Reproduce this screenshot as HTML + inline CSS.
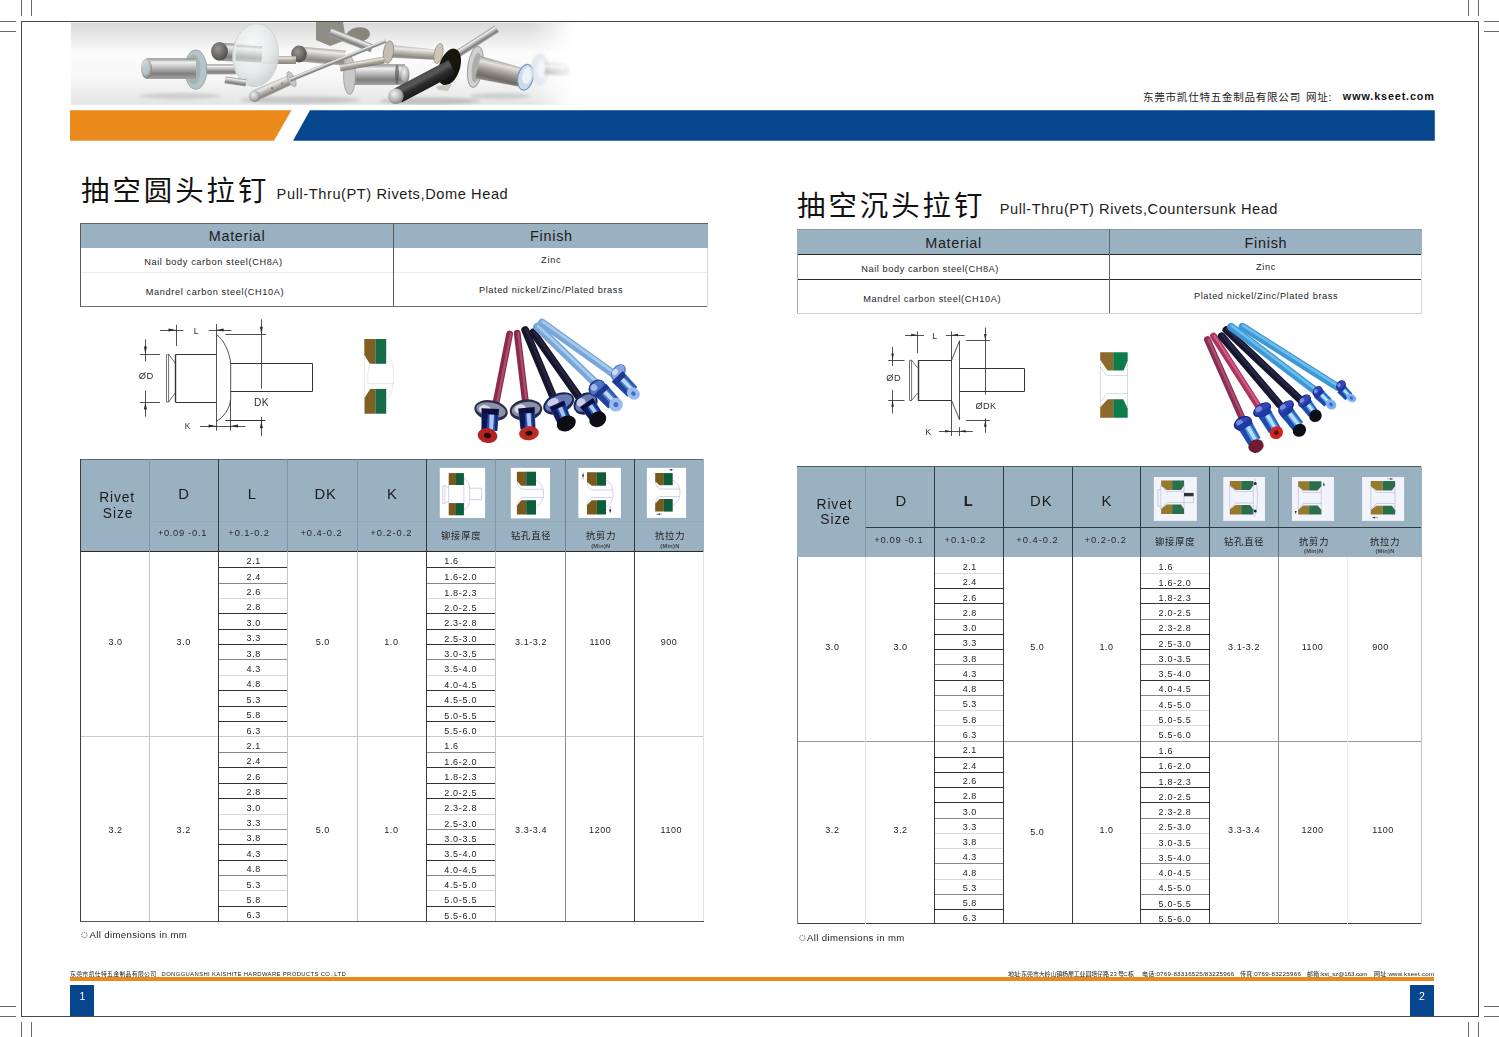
<!DOCTYPE html>
<html><head><meta charset="utf-8"><title>Pull-Thru Rivets</title>
<style>
html,body{margin:0;padding:0;background:#fff}
body{width:1499px;height:1037px;position:relative;overflow:hidden;font-family:"Liberation Sans",sans-serif}
.t{position:absolute;transform:translate(-50%,-50%);white-space:nowrap;line-height:1}
.tl{position:absolute;transform:translate(0,-50%);white-space:nowrap;line-height:1}
.r{position:absolute}
.s{position:absolute;overflow:visible}
.cj{font-family:"Liberation Sans","Noto Sans CJK SC",sans-serif}
</style></head><body>
<div class="r" style="left:21.1px;top:21.05px;width:1458.1000000000001px;height:1.1px;background:#474747;"></div>
<div class="r" style="left:21.1px;top:1015.85px;width:1458.1000000000001px;height:1.1px;background:#474747;"></div>
<div class="r" style="left:21.05px;top:21.1px;width:1.1px;height:995.8px;background:#474747;"></div>
<div class="r" style="left:1478.15px;top:21.1px;width:1.1px;height:995.8px;background:#474747;"></div>
<div class="r" style="left:21.0px;top:0px;width:1px;height:15.5px;background:#6a6a6a;"></div>
<div class="r" style="left:21.0px;top:1022px;width:1px;height:15px;background:#6a6a6a;"></div>
<div class="r" style="left:31.0px;top:0px;width:1px;height:15.5px;background:#6a6a6a;"></div>
<div class="r" style="left:31.0px;top:1022px;width:1px;height:15px;background:#6a6a6a;"></div>
<div class="r" style="left:1467.9px;top:0px;width:1px;height:15.5px;background:#6a6a6a;"></div>
<div class="r" style="left:1467.9px;top:1022px;width:1px;height:15px;background:#6a6a6a;"></div>
<div class="r" style="left:1477.9px;top:0px;width:1px;height:15.5px;background:#6a6a6a;"></div>
<div class="r" style="left:1477.9px;top:1022px;width:1px;height:15px;background:#6a6a6a;"></div>
<div class="r" style="left:0px;top:21.0px;width:15.5px;height:1px;background:#6a6a6a;"></div>
<div class="r" style="left:1484px;top:21.0px;width:15px;height:1px;background:#6a6a6a;"></div>
<div class="r" style="left:0px;top:31.0px;width:15.5px;height:1px;background:#6a6a6a;"></div>
<div class="r" style="left:1484px;top:31.0px;width:15px;height:1px;background:#6a6a6a;"></div>
<div class="r" style="left:0px;top:1005.8px;width:15.5px;height:1px;background:#6a6a6a;"></div>
<div class="r" style="left:1484px;top:1005.8px;width:15px;height:1px;background:#6a6a6a;"></div>
<div class="r" style="left:0px;top:1015.9px;width:15.5px;height:1px;background:#6a6a6a;"></div>
<div class="r" style="left:1484px;top:1015.9px;width:15px;height:1px;background:#6a6a6a;"></div>
<svg class="s" style="left:70px;top:22px" width="512" height="83" viewBox="70 22 512 83">
<defs>
<linearGradient id="pbg" x1="0" y1="0" x2="0" y2="1"><stop offset="0" stop-color="#d9d9d9"/><stop offset="0.38" stop-color="#fcfcfc"/><stop offset="0.66" stop-color="#f8f8f8"/><stop offset="1" stop-color="#e3e4e4"/></linearGradient>
<linearGradient id="pfd" x1="0" y1="0" x2="1" y2="0"><stop offset="0" stop-color="#fff" stop-opacity="0"/><stop offset="0.9" stop-color="#fff" stop-opacity="0"/><stop offset="0.985" stop-color="#fff" stop-opacity="1"/><stop offset="1" stop-color="#fff" stop-opacity="1"/></linearGradient>
<linearGradient id="cyl" x1="0" y1="0" x2="0" y2="1"><stop offset="0" stop-color="#8c8c8c"/><stop offset="0.2" stop-color="#efefef"/><stop offset="0.45" stop-color="#bcbcbc"/><stop offset="0.75" stop-color="#7e7e7e"/><stop offset="1" stop-color="#a4a4a4"/></linearGradient>
<linearGradient id="cyl2" x1="0" y1="0" x2="0" y2="1"><stop offset="0" stop-color="#a8a49c"/><stop offset="0.25" stop-color="#e6e2da"/><stop offset="0.55" stop-color="#a69e92"/><stop offset="1" stop-color="#7c766c"/></linearGradient>
<linearGradient id="cyl3" x1="0" y1="0" x2="0" y2="1"><stop offset="0" stop-color="#b4b0aa"/><stop offset="0.22" stop-color="#ecebe8"/><stop offset="0.5" stop-color="#bdb9b3"/><stop offset="0.8" stop-color="#8c8882"/><stop offset="1" stop-color="#aaa6a0"/></linearGradient>
<linearGradient id="cyl4" x1="0" y1="0" x2="0" y2="1"><stop offset="0" stop-color="#a29e98"/><stop offset="0.2" stop-color="#e4e2de"/><stop offset="0.42" stop-color="#b2aea8"/><stop offset="0.62" stop-color="#8a8680"/><stop offset="0.82" stop-color="#6e6a66"/><stop offset="1" stop-color="#9a9690"/></linearGradient>
<linearGradient id="blk" x1="0" y1="0" x2="0" y2="1"><stop offset="0" stop-color="#4a4a4a"/><stop offset="0.3" stop-color="#5a5a5a"/><stop offset="0.6" stop-color="#2c2c2c"/><stop offset="1" stop-color="#1c1c1c"/></linearGradient>
<radialGradient id="disc" cx="0.4" cy="0.35" r="0.7"><stop offset="0" stop-color="#fafbfb"/><stop offset="0.6" stop-color="#e6eaea"/><stop offset="1" stop-color="#c8cece"/></radialGradient>
<radialGradient id="ball" cx="0.4" cy="0.35" r="0.7"><stop offset="0" stop-color="#f0f0f0"/><stop offset="0.6" stop-color="#b4b4b4"/><stop offset="1" stop-color="#7c7c7c"/></radialGradient>
<radialGradient id="dball" cx="0.4" cy="0.35" r="0.7"><stop offset="0" stop-color="#9a9894"/><stop offset="0.7" stop-color="#62605c"/><stop offset="1" stop-color="#4a4844"/></radialGradient>
<filter id="pb" x="-2%" y="-5%" width="104%" height="110%"><feGaussianBlur stdDeviation="0.75"/></filter>
<filter id="pb2" x="-5%" y="-10%" width="110%" height="120%"><feGaussianBlur stdDeviation="1.6"/></filter>
<filter id="pb3" x="-5%" y="-10%" width="110%" height="120%"><feGaussianBlur stdDeviation="1.1"/></filter>
<clipPath id="pcl"><rect x="70" y="22.6" width="512" height="82.2"/></clipPath>
</defs>
<rect x="70.8" y="22.6" width="511.2" height="82.2" fill="url(#pbg)"/>
<g clip-path="url(#pcl)"><g filter="url(#pb)">
<g filter="url(#pb2)" opacity="0.35">
<ellipse cx="180.0" cy="96.0" rx="40" ry="3" fill="#9a9a9a" transform="rotate(0 180.0 96.0)" opacity="1"/>
<ellipse cx="300.0" cy="100.0" rx="60" ry="3.5" fill="#8a8a8a" transform="rotate(0 300.0 100.0)" opacity="1"/>
<ellipse cx="430.0" cy="101.0" rx="50" ry="3.5" fill="#7a7a7a" transform="rotate(0 430.0 101.0)" opacity="1"/>
<ellipse cx="500.0" cy="96.0" rx="30" ry="3" fill="#9a9a9a" transform="rotate(0 500.0 96.0)" opacity="1"/>
</g>
<polygon points="316,22 343,22 346,40 330,46 316,40" fill="#8e8e86"/>
<ellipse cx="358.0" cy="35.0" rx="12" ry="7.5" fill="#8a847a" transform="rotate(-10 358.0 35.0)" opacity="1"/>
<g transform="translate(330.0 32.0) rotate(21.4)" opacity="1"><polygon points="0,-4.2 45.1,-4.2 45.1,4.2 0,4.2" fill="url(#cyl)"/></g>
<g transform="translate(299.0 54.0) rotate(5.0)" opacity="1"><polygon points="0,-7.5 46.2,-7.5 46.2,7.5 0,7.5" fill="url(#cyl3)"/></g>
<ellipse cx="299.0" cy="54.0" rx="7.8" ry="8.4" fill="url(#dball)" transform="rotate(0 299.0 54.0)" opacity="1"/>
<g transform="translate(262.0 60.0) rotate(0.0)" opacity="0.9"><polygon points="0,-4.0 34.0,-4.0 34.0,4.0 0,4.0" fill="url(#cyl2)"/></g>
<g transform="translate(205.0 69.4) rotate(0.0)" opacity="1"><polygon points="0,-5.0 31.0,-5.0 31.0,5.0 0,5.0" fill="url(#cyl)"/></g>
<g transform="translate(222.0 52.0) rotate(2.5)" opacity="1"><polygon points="0,-9.0 34.0,-9.0 34.0,9.0 0,9.0" fill="url(#cyl)"/></g>
<ellipse cx="219.5" cy="51.3" rx="8.4" ry="9.4" fill="url(#dball)" transform="rotate(0 219.5 51.3)" opacity="1"/>
<ellipse cx="255.6" cy="55.2" rx="23" ry="31.5" fill="url(#disc)" transform="rotate(4 255.6 55.2)" opacity="0.93" stroke="#c9cfcf" stroke-width="0.8"/>
<g transform="translate(236.0 53.0) rotate(3.3)" opacity="0.45"><polygon points="0,-8.0 26.0,-8.0 26.0,8.0 0,8.0" fill="url(#cyl)"/></g>
<ellipse cx="195.8" cy="69.6" rx="11" ry="19.8" fill="#b4c4c8" transform="rotate(0 195.8 69.6)" opacity="1" stroke="#9aa6aa" stroke-width="1"/>
<ellipse cx="193.5" cy="69.6" rx="7" ry="15" fill="#a4aeb0" transform="rotate(0 193.5 69.6)" opacity="0.8"/>
<g transform="translate(146.0 68.6) rotate(0.0)" opacity="1"><polygon points="0,-10.3 50.0,-10.3 50.0,10.3 0,10.3" fill="url(#cyl)"/></g>
<ellipse cx="146.5" cy="68.6" rx="5.5" ry="10.2" fill="url(#ball)" transform="rotate(0 146.5 68.6)" opacity="1"/>
<ellipse cx="146.0" cy="68.8" rx="3.2" ry="6" fill="#b4c8d4" transform="rotate(0 146.0 68.8)" opacity="0.8"/>
<g transform="translate(225.0 80.0) rotate(8.1)" opacity="1"><polygon points="0,-3.5 21.2,-3.5 21.2,3.5 0,3.5" fill="url(#cyl)"/></g>
<g transform="translate(352.0 74.6) rotate(0.0)" opacity="1"><polygon points="0,-10.3 53.0,-10.3 53.0,10.3 0,10.3" fill="url(#cyl)"/></g>
<ellipse cx="349.5" cy="75.5" rx="6" ry="19" fill="#c8c8c8" transform="rotate(0 349.5 75.5)" opacity="1" stroke="#9a9a9a" stroke-width="0.8"/>
<ellipse cx="397.0" cy="74.6" rx="2" ry="10" fill="#5a5a5a" transform="rotate(0 397.0 74.6)" opacity="0.7"/>
<ellipse cx="405.0" cy="74.6" rx="4.5" ry="9" fill="url(#ball)" transform="rotate(0 405.0 74.6)" opacity="1"/>
<g transform="translate(254.0 96.3) rotate(-24.5)" opacity="1"><polygon points="0,-5.8 41.8,-5.0 41.8,5.0 0,5.8" fill="url(#cyl3)"/></g>
<ellipse cx="254.5" cy="96.2" rx="5.6" ry="5.8" fill="url(#ball)" transform="rotate(0 254.5 96.2)" opacity="1"/>
<ellipse cx="272.0" cy="88.2" rx="0.9" ry="1.1" fill="#5a5a5a" transform="rotate(0 272.0 88.2)" opacity="0.8"/>
<ellipse cx="282.0" cy="83.6" rx="0.9" ry="1.1" fill="#5a5a5a" transform="rotate(0 282.0 83.6)" opacity="0.8"/>
<ellipse cx="291.5" cy="79.2" rx="3.4" ry="8.2" fill="#c6c6c6" transform="rotate(-25 291.5 79.2)" opacity="1" stroke="#9a9a9a" stroke-width="0.6"/>
<g transform="translate(290.0 80.0) rotate(-22.2)" opacity="1"><polygon points="0,-2.2 103.7,-1.8 103.7,1.8 0,2.2" fill="url(#cyl)"/></g>
<g transform="translate(386.0 51.0) rotate(4.2)" opacity="1"><polygon points="0,-6.5 54.1,-5.0 54.1,5.0 0,6.5" fill="url(#cyl3)"/></g>
<ellipse cx="388.5" cy="52.1" rx="5" ry="11.3" fill="#c4beb2" transform="rotate(8 388.5 52.1)" opacity="1" stroke="#8c867a" stroke-width="0.8"/>
<ellipse cx="438.5" cy="53.5" rx="4.2" ry="10.2" fill="#cdc7bb" transform="rotate(12 438.5 53.5)" opacity="1" stroke="#8c867a" stroke-width="0.7"/>
<g transform="translate(340.0 68.0) rotate(-10.3)" opacity="0.9"><polygon points="0,-3.5 44.7,-3.5 44.7,3.5 0,3.5" fill="url(#cyl2)"/></g>
<g transform="translate(452.0 57.5) rotate(-32.6)" opacity="1"><polygon points="0,-3.8 53.4,-3.8 53.4,3.8 0,3.8" fill="url(#cyl)"/></g>
<ellipse cx="449.5" cy="67.0" rx="10.4" ry="19" fill="#17120e" transform="rotate(18 449.5 67.0)" opacity="1"/>
<g transform="translate(398.0 95.5) rotate(-27.8)" opacity="1"><polygon points="0,-7.8 61.1,-7.8 61.1,7.8 0,7.8" fill="url(#blk)"/></g>
<ellipse cx="395.8" cy="96.2" rx="7.8" ry="7.8" fill="url(#ball)" transform="rotate(0 395.8 96.2)" opacity="1"/>
<polygon points="436,86 452,84 448,91 438,90" fill="#c8c8c0"/>
<ellipse cx="475.4" cy="66.8" rx="7.6" ry="20.6" fill="#d2d2d2" transform="rotate(8 475.4 66.8)" opacity="1" stroke="#9c9c9c" stroke-width="1"/>
<ellipse cx="476.5" cy="67.5" rx="4.6" ry="15" fill="#a4a4a4" transform="rotate(8 476.5 67.5)" opacity="0.8"/>
<g transform="translate(478.0 67.2) rotate(13.2)" opacity="1"><polygon points="0,-11.5 45.2,-9.5 45.2,9.5 0,11.5" fill="url(#cyl4)"/></g>
<ellipse cx="525.5" cy="77.2" rx="7.6" ry="13" fill="#cfdce8" transform="rotate(12 525.5 77.2)" opacity="1" stroke="#6f9ccb" stroke-width="1.2"/>
<ellipse cx="527.0" cy="75.5" rx="4.6" ry="8.5" fill="#eef3f8" transform="rotate(12 527.0 75.5)" opacity="0.9"/>
</g>
<g filter="url(#pb3)">
<ellipse cx="540.3" cy="69.4" rx="8.5" ry="15.4" fill="#dfe7ee" transform="rotate(0 540.3 69.4)" opacity="1" stroke="#c4d0da" stroke-width="0.8"/>
<g transform="translate(544.0 68.6) rotate(3.5)" opacity="0.75"><polygon points="0,-6.0 26.0,-6.0 26.0,6.0 0,6.0" fill="url(#cyl)"/></g>
<ellipse cx="541.0" cy="69.0" rx="4" ry="9" fill="#f2f5f8" transform="rotate(0 541.0 69.0)" opacity="0.9"/>
<ellipse cx="566.5" cy="70.0" rx="2.2" ry="3.2" fill="#7e8a94" transform="rotate(0 566.5 70.0)" opacity="0.8"/>
</g>
</g>
<rect x="70" y="22.6" width="512" height="82.2" fill="url(#pfd)"/>
</svg>
<svg class="s" style="left:0;top:105px" width="1499" height="40" viewBox="0 105 1499 40"><polygon points="70,110.2 291.5,110.2 274,140.8 70,140.8" fill="#ea8a1c"/><polygon points="310,110.2 1434.8,110.2 1434.8,140.8 293,140.8" fill="#05468f"/></svg>
<svg class="s" style="left:1141.00px;top:89.80px" width="162.5" height="14.8" viewBox="-2 -10.6 162.5 14.8"><text class="cj" x="0" y="0" font-size="10.6" fill="#1c1c1c" style="letter-spacing:0.7px">东莞市凯仕特五金制品有限公司</text></svg>
<svg class="s" style="left:1304.00px;top:89.80px" width="28.7" height="14.8" viewBox="-2 -10.6 28.7 14.8"><text class="cj" x="0" y="0" font-size="10.6" fill="#1c1c1c" style="letter-spacing:0.7px">网址:</text></svg>
<div class="tl" style="left:1342.87px;top:96.4px;font-size:10.8px;letter-spacing:0.872px;font-weight:bold;color:#111;">www.kseet.com</div>
<svg class="s" style="left:78.60px;top:172.60px" width="190.4" height="39.8" viewBox="-2 -28.4 190.4 39.8"><text class="cj" x="0" y="0" font-size="28.4" fill="#111" style="letter-spacing:3px">抽空圆头拉钉</text></svg>
<div class="tl" style="left:276.62px;top:193.6px;font-size:14.6px;letter-spacing:0.586px;font-weight:normal;color:#1c1c1c;">Pull-Thru(PT) Rivets,Dome Head</div>
<svg class="s" style="left:795.00px;top:187.80px" width="190.4" height="39.8" viewBox="-2 -28.4 190.4 39.8"><text class="cj" x="0" y="0" font-size="28.4" fill="#111" style="letter-spacing:3px">抽空沉头拉钉</text></svg>
<div class="tl" style="left:999.82px;top:209.2px;font-size:14.6px;letter-spacing:0.549px;font-weight:normal;color:#1c1c1c;">Pull-Thru(PT) Rivets,Countersunk Head</div>
<div class="r" style="left:80.1px;top:223.5px;width:627.6px;height:24.400000000000006px;background:#9ab1c2;"></div>
<div class="tl" style="left:208.87px;top:236.2px;font-size:14.4px;letter-spacing:0.669px;font-weight:normal;color:#1c1c1c;">Material</div>
<div class="tl" style="left:530.12px;top:236.2px;font-size:14.4px;letter-spacing:0.717px;font-weight:normal;color:#1c1c1c;">Finish</div>
<div class="tl" style="left:144.23px;top:262.8px;font-size:9.2px;letter-spacing:0.607px;font-weight:normal;color:#1c1c1c;">Nail body carbon steel(CH8A)</div>
<div class="tl" style="left:145.73px;top:293.4px;font-size:9.2px;letter-spacing:0.631px;font-weight:normal;color:#1c1c1c;">Mandrel carbon steel(CH10A)</div>
<div class="tl" style="left:541.08px;top:261.0px;font-size:9.2px;letter-spacing:0.706px;font-weight:normal;color:#1c1c1c;">Zinc</div>
<div class="tl" style="left:478.93px;top:290.5px;font-size:9.2px;letter-spacing:0.6px;font-weight:normal;color:#1c1c1c;">Plated nickel/Zinc/Plated brass</div>
<div class="r" style="left:80.1px;top:223.0px;width:627.6px;height:1px;background:#5c656c;"></div>
<div class="r" style="left:80.1px;top:306.29999999999995px;width:627.6px;height:1.2px;background:#6e6e6e;"></div>
<div class="r" style="left:80.1px;top:271.9px;width:627.6px;height:1px;background:#ececec;"></div>
<div class="r" style="left:79.6px;top:223.5px;width:1px;height:83.39999999999998px;background:#5a5a5a;"></div>
<div class="r" style="left:393.1px;top:223.5px;width:1px;height:83.39999999999998px;background:#5a5a5a;"></div>
<div class="r" style="left:707.2px;top:247.9px;width:1px;height:58.99999999999997px;background:#d8d8d8;"></div>
<div class="r" style="left:797.3px;top:229.3px;width:624.5px;height:25.099999999999994px;background:#9ab1c2;"></div>
<div class="tl" style="left:925.27px;top:242.6px;font-size:14.4px;letter-spacing:0.669px;font-weight:normal;color:#1c1c1c;">Material</div>
<div class="tl" style="left:1244.62px;top:242.6px;font-size:14.4px;letter-spacing:0.717px;font-weight:normal;color:#1c1c1c;">Finish</div>
<div class="tl" style="left:861.33px;top:270.0px;font-size:9.2px;letter-spacing:0.574px;font-weight:normal;color:#1c1c1c;">Nail body carbon steel(CH8A)</div>
<div class="tl" style="left:863.23px;top:300.2px;font-size:9.2px;letter-spacing:0.604px;font-weight:normal;color:#1c1c1c;">Mandrel carbon steel(CH10A)</div>
<div class="tl" style="left:1255.88px;top:268.4px;font-size:9.2px;letter-spacing:0.706px;font-weight:normal;color:#1c1c1c;">Zinc</div>
<div class="tl" style="left:1193.93px;top:296.7px;font-size:9.2px;letter-spacing:0.6px;font-weight:normal;color:#1c1c1c;">Plated nickel/Zinc/Plated brass</div>
<div class="r" style="left:797.3px;top:228.8px;width:624.5px;height:1px;background:#8b9aa6;"></div>
<div class="r" style="left:797.3px;top:253.8px;width:624.5px;height:1.2px;background:#2a2a2a;"></div>
<div class="r" style="left:797.3px;top:278.9px;width:624.5px;height:1.2px;background:#2a2a2a;"></div>
<div class="r" style="left:797.3px;top:312.7px;width:624.5px;height:1px;background:#d0d0d0;"></div>
<div class="r" style="left:796.8px;top:254.4px;width:1px;height:58.79999999999998px;background:#a8a8a8;"></div>
<div class="r" style="left:1108.8px;top:229.3px;width:1px;height:83.89999999999998px;background:#666;"></div>
<div class="r" style="left:1421.3px;top:254.4px;width:1px;height:58.79999999999998px;background:#dcdcdc;"></div>
<svg class="s" style="left:0;top:0" width="1499" height="1037" viewBox="0 0 1499 1037">
<defs><filter id="gb" x="-5%" y="-5%" width="110%" height="110%"><feGaussianBlur stdDeviation="0.3"/></filter></defs>
<g fill="none" stroke="#333" stroke-width="0.85" stroke-linecap="butt">
<path d="M140 354.5L160 354.5"/>
<path d="M140 402.5L160 402.5"/>
<path d="M145.5 339.4L145.5 361.4"/>
<path d="M145.5 390.7L145.5 416.7"/>
<path d="M145.4 354L143.9 346.5L146.9 346.5Z" fill="#2a2a2a" stroke="none"/>
<path d="M145.4 402.1L146.9 409.6L143.9 409.6Z" fill="#2a2a2a" stroke="none"/>
<path d="M166.5 355L166.5 402L168.6 402L175.4 392.7M166.5 355L168.6 354.2L175.4 363.4M168.6 354.2L168.6 402" stroke-width="0.7"/>
<path d="M175.4 354.5L216 354.5M175.4 402.5L216 402.5" stroke-width="1.1"/>
<path d="M175.5 354.7L175.5 402.1" stroke-width="1.4"/>
<path d="M216.5 324L216.5 430.7"/>
<path d="M216.3 334.3C224 340 229.5 352 230.7 363.4L230.7 399.4C229.5 409 224 417 216.3 421.4"/>
<path d="M230.7 363.5L312.5 363.5L312.5 391.5L230.7 391.5" stroke-width="1"/>
<path d="M160 330.5L183.4 330.5"/>
<path d="M176.5 324.7L176.5 346"/>
<path d="M176 330L168.5 331.5L168.5 328.5Z" fill="#2a2a2a" stroke="none"/>
<path d="M208.7 330.5L231.4 330.5"/>
<path d="M216.1 330L223.6 328.5L223.6 331.5Z" fill="#2a2a2a" stroke="none"/>
<path d="M261.5 319.3L261.5 388.7"/>
<path d="M225.4 334.5L266.1 334.5"/>
<path d="M261.4 334.3L259.9 326.8L262.9 326.8Z" fill="#2a2a2a" stroke="none"/>
<path d="M225.4 420.5L265.4 420.5" stroke-width="1.2"/>
<path d="M261.5 416.7L261.5 436.1"/>
<path d="M261.4 420.7L262.9 428.2L259.9 428.2Z" fill="#2a2a2a" stroke="none"/>
<path d="M200 426.5L245.4 426.5"/>
<path d="M216.1 426.1L208.6 427.6L208.6 424.6Z" fill="#2a2a2a" stroke="none"/>
<path d="M230.5 426.1L238.0 424.6L238.0 427.6Z" fill="#2a2a2a" stroke="none"/>
<path d="M230.5 399.4L230.5 430.7"/>
<path d="M888.2 360.5L904.5 360.5"/>
<path d="M888.2 400.5L904.5 400.5"/>
<path d="M892.5 347L892.5 366"/>
<path d="M892.5 390L892.5 413.4"/>
<path d="M892.6 360.1L891.3 353.6L893.9 353.6Z" fill="#2a2a2a" stroke="none"/>
<path d="M892.6 400.2L893.9 406.7L891.3 406.7Z" fill="#2a2a2a" stroke="none"/>
<path d="M909.5 360.5L909.5 400.5L911.6 400.5L917.6 393M909.5 360.5L911.6 360.1L917.6 367.8M911.6 360.1L911.6 400.5" stroke-width="0.7"/>
<path d="M918 360.5L951.5 360.5M918 400.5L951.5 400.5" stroke-width="1.1"/>
<path d="M918.5 360.4L918.5 400.5" stroke-width="1.4"/>
<path d="M951.5 360.5L959.5 340.7L959.5 419.7L951.5 400.5"/>
<path d="M951.5 331.3L951.5 436"/>
<path d="M959.6 368.5L1024.5 368.5L1024.5 391.5L959.6 391.5" stroke-width="1"/>
<path d="M905 335.5L924 335.5"/>
<path d="M917.5 331.3L917.5 353.2"/>
<path d="M917.6 335L911.1 336.3L911.1 333.7Z" fill="#2a2a2a" stroke="none"/>
<path d="M945.8 335.5L964.6 335.5"/>
<path d="M951.5 335L958.0 333.7L958.0 336.3Z" fill="#2a2a2a" stroke="none"/>
<path d="M985.5 327.5L985.5 394.6"/>
<path d="M965.9 340.5L989.7 340.5"/>
<path d="M985.3 340.4L984.0 333.9L986.6 333.9Z" fill="#2a2a2a" stroke="none"/>
<path d="M965.9 420.5L989.7 420.5"/>
<path d="M985.5 418.4L985.5 432.8"/>
<path d="M985.3 420.3L986.6 426.8L984.0 426.8Z" fill="#2a2a2a" stroke="none"/>
<path d="M938.9 431.5L972.8 431.5"/>
<path d="M951.5 431.3L945.0 432.6L945.0 430.0Z" fill="#2a2a2a" stroke="none"/>
<path d="M959.2 431.3L965.7 430.0L965.7 432.6Z" fill="#2a2a2a" stroke="none"/>
<path d="M959.5 427.2L959.5 436"/>
</g>
<g filter="url(#gb)">
<path d="M364.3 339L375.3 339L375.3 363.8L369.8 363.8L364.3 354.9Z" fill="#7f5f20"/>
<rect x="375.3" y="339" width="10.9" height="24.8" fill="#146b45"/>
<path d="M364.5 397.8L370.3 388.9L375.3 388.9L375.3 413.7L364.5 413.7Z" fill="#7f5f20"/>
<rect x="375.3" y="388.9" width="10.9" height="24.8" fill="#146b45"/>
<path d="M364.6 356.8L364.6 396.4M369.8 363.8C367.5 369 367.5 378 368 383.4M386.2 353C391.5 357 393.6 366 393.6 376.5C393.6 387 391.5 396 386.2 399.8M367.8 383.4L393.9 383.4" fill="none" stroke="#dedee6" stroke-width="0.7"/>
<path d="M1100.2 352.2L1113.2 352.2L1113.2 370.6L1107.6 370.6L1100.2 360Z" fill="#8e6829"/>
<path d="M1113.2 352.2L1127.7 352.2L1127.7 360.4L1123.6 370.6L1113.2 370.6Z" fill="#0f7b4c"/>
<path d="M1100.2 407.3L1107.7 399.3L1113.2 399.3L1113.2 417.7L1100.2 417.7Z" fill="#8e6829"/>
<path d="M1113.2 399.3L1123.2 399.3L1127.7 408.6L1127.7 417.7L1113.2 417.7Z" fill="#0f7b4c"/>
<path d="M1100.4 363L1100.4 406M1127.5 362L1127.5 407M1100.4 367L1106.3 375.4L1127.5 375.4M1100.4 402.5L1106.3 393.7L1127.5 393.7" fill="none" stroke="#c9c9d8" stroke-width="0.7"/>
</g>
</svg>
<svg class="s" style="left:0;top:0" width="1499" height="1037" viewBox="0 0 1499 1037">
<defs><filter id="bl" x="-5%" y="-5%" width="110%" height="110%"><feGaussianBlur stdDeviation="0.75"/></filter></defs>
<g filter="url(#bl)" stroke-linecap="round" fill="none">
<path d="M509.6 334.0L495.8 404.0" stroke="#8b2b4c" stroke-width="6.8" stroke-linecap="round" opacity="1"/>
<path d="M510.7 334.2L496.9 404.2" stroke="#b4587c" stroke-width="2.3" stroke-linecap="round" opacity="0.75"/>
<ellipse cx="491.0" cy="410.5" rx="16.9" ry="10.2" fill="#2a2c48" transform="rotate(11 491.0 410.5)" opacity="1"/>
<ellipse cx="491.0" cy="410.0" rx="14.9" ry="7.3" fill="#8c92a6" transform="rotate(11 491.0 410.0)" opacity="1"/>
<ellipse cx="485.1" cy="409.5" rx="6.1" ry="4.3" fill="#e4e6ee" transform="rotate(11 485.1 409.5)" opacity="0.9"/>
<polygon points="481.5,408.3 481.6,415.0 498.4,415.7 499.1,409.0" fill="#0b1040" opacity="1"/>
<polygon points="481.5,414.2 481.4,430.3 497.4,430.9 498.6,414.9" fill="#2a4db0" opacity="1"/>
<polygon points="482.0,414.2 481.8,430.3 486.6,430.5 487.8,414.4" fill="#0b1040" opacity="0.85"/>
<polygon points="489.5,414.5 489.2,430.6 493.0,430.7 494.0,414.7" fill="#b4cef6" opacity="0.95"/>
<polygon points="495.4,414.7 495.0,430.8 496.9,430.9 497.8,414.8" fill="#0b1040" opacity="0.6"/>
<ellipse cx="487.5" cy="435.6" rx="9.9" ry="7.4" fill="#b42222" transform="rotate(11 487.5 435.6)" opacity="1"/>
<ellipse cx="487.5" cy="435.6" rx="3.6" ry="2.7" fill="#2c0c0c" transform="rotate(11 487.5 435.6)" opacity="1"/>
<path d="M517.2 333.2L525.7 404.0" stroke="#8b2b4c" stroke-width="6.8" stroke-linecap="round" opacity="1"/>
<path d="M518.3 333.1L526.8 403.9" stroke="#b4587c" stroke-width="2.3" stroke-linecap="round" opacity="0.75"/>
<ellipse cx="526.0" cy="410.0" rx="16.3" ry="10.6" fill="#2a2c48" transform="rotate(-7 526.0 410.0)" opacity="1"/>
<ellipse cx="526.0" cy="409.5" rx="14.3" ry="7.6" fill="#8c92a6" transform="rotate(-7 526.0 409.5)" opacity="1"/>
<ellipse cx="520.3" cy="408.9" rx="5.9" ry="4.5" fill="#e4e6ee" transform="rotate(-7 520.3 408.9)" opacity="0.9"/>
<polygon points="518.2,408.4 519.0,414.7 534.8,413.5 534.7,407.1" fill="#0b1040" opacity="1"/>
<polygon points="518.8,414.0 520.5,429.4 535.5,428.2 534.9,412.8" fill="#2a4db0" opacity="1"/>
<polygon points="519.3,413.9 520.9,429.3 525.4,429.0 524.8,413.5" fill="#0b1040" opacity="0.85"/>
<polygon points="526.4,413.4 527.8,428.8 531.4,428.5 530.6,413.1" fill="#b4cef6" opacity="0.95"/>
<polygon points="531.9,413.0 533.2,428.4 535.0,428.3 534.1,412.8" fill="#0b1040" opacity="0.6"/>
<ellipse cx="529.0" cy="433.3" rx="9.9" ry="7.0" fill="#ba2a22" transform="rotate(-7 529.0 433.3)" opacity="1"/>
<ellipse cx="529.0" cy="433.3" rx="3.6" ry="2.5" fill="#2c0c0c" transform="rotate(-7 529.0 433.3)" opacity="1"/>
<path d="M525.2 330.0L554.5 400.0" stroke="#15132a" stroke-width="7.8" stroke-linecap="round" opacity="1"/>
<path d="M526.4 329.5L555.7 399.5" stroke="#2c2a4a" stroke-width="2.7" stroke-linecap="round" opacity="0.75"/>
<ellipse cx="558.7" cy="403.5" rx="16.3" ry="10.0" fill="#1c2456" transform="rotate(-23 558.7 403.5)" opacity="1"/>
<ellipse cx="558.7" cy="403.0" rx="14.3" ry="7.2" fill="#6a7cb4" transform="rotate(-23 558.7 403.0)" opacity="1"/>
<ellipse cx="553.0" cy="402.5" rx="5.9" ry="4.2" fill="#cfd8f0" transform="rotate(-23 553.0 402.5)" opacity="0.9"/>
<polygon points="549.5,406.9 551.9,411.7 566.0,405.7 564.2,400.6" fill="#0b1040" opacity="1"/>
<polygon points="551.5,411.2 557.1,422.9 570.5,417.1 565.9,405.0" fill="#2c58bc" opacity="1"/>
<polygon points="552.0,411.0 557.5,422.7 561.5,421.0 556.9,408.9" fill="#0b1040" opacity="0.85"/>
<polygon points="558.3,408.3 563.6,420.1 566.8,418.7 562.0,406.7" fill="#b4cef6" opacity="0.95"/>
<polygon points="563.2,406.2 568.5,418.0 570.1,417.3 565.2,405.4" fill="#0b1040" opacity="0.6"/>
<ellipse cx="566.3" cy="423.4" rx="9.9" ry="7.6" fill="#0b0b12" transform="rotate(-23 566.3 423.4)" opacity="1"/>
<path d="M533.2 332.4L581.0 400.0" stroke="#15132a" stroke-width="7.8" stroke-linecap="round" opacity="1"/>
<path d="M534.2 331.7L582.0 399.3" stroke="#2c2a4a" stroke-width="2.7" stroke-linecap="round" opacity="0.75"/>
<ellipse cx="585.6" cy="403.5" rx="12.8" ry="10.2" fill="#1c2456" transform="rotate(-35 585.6 403.5)" opacity="1"/>
<ellipse cx="585.6" cy="403.0" rx="11.3" ry="7.3" fill="#6a7cb4" transform="rotate(-35 585.6 403.0)" opacity="1"/>
<ellipse cx="581.1" cy="402.5" rx="4.6" ry="4.3" fill="#cfd8f0" transform="rotate(-35 581.1 402.5)" opacity="0.9"/>
<polygon points="579.9,407.0 583.1,411.1 595.7,402.4 593.0,398.0" fill="#0b1040" opacity="1"/>
<polygon points="582.6,410.7 590.1,420.5 602.1,412.3 595.5,401.8" fill="#2c58bc" opacity="1"/>
<polygon points="583.0,410.4 590.5,420.3 594.0,417.8 587.4,407.4" fill="#0b1040" opacity="0.85"/>
<polygon points="588.7,406.5 596.0,416.5 598.8,414.5 592.0,404.2" fill="#b4cef6" opacity="0.95"/>
<polygon points="593.0,403.5 600.3,413.5 601.7,412.5 594.8,402.2" fill="#0b1040" opacity="0.6"/>
<ellipse cx="597.8" cy="419.3" rx="8.8" ry="7.6" fill="#0b0b12" transform="rotate(-35 597.8 419.3)" opacity="1"/>
<path d="M537.2 326.8L596.0 383.5" stroke="#79a6d6" stroke-width="8.2" stroke-linecap="round" opacity="1"/>
<path d="M538.1 325.9L596.9 382.6" stroke="#b6d5f4" stroke-width="2.8" stroke-linecap="round" opacity="0.75"/>
<ellipse cx="597.2" cy="388.3" rx="9.3" ry="8.2" fill="#24408e" transform="rotate(-46 597.2 388.3)" opacity="1"/>
<ellipse cx="597.2" cy="387.8" rx="8.2" ry="5.9" fill="#4c74c4" transform="rotate(-46 597.2 387.8)" opacity="1"/>
<ellipse cx="593.9" cy="387.5" rx="3.3" ry="3.4" fill="#a9c4f0" transform="rotate(-46 593.9 387.5)" opacity="0.9"/>
<polygon points="594.1,394.8 598.5,398.9 609.9,388.1 606.0,383.6" fill="#1c3a90" opacity="1"/>
<polygon points="597.9,398.5 608.2,408.6 619.0,398.4 609.5,387.5" fill="#4a7ccc" opacity="1"/>
<polygon points="598.2,398.2 608.5,408.3 611.7,405.3 602.2,394.4" fill="#1c3a90" opacity="0.85"/>
<polygon points="603.3,393.3 613.5,403.6 616.1,401.2 606.4,390.5" fill="#c6dcf8" opacity="0.95"/>
<polygon points="607.3,389.6 617.4,399.9 618.7,398.7 608.9,388.1" fill="#1c3a90" opacity="0.6"/>
<ellipse cx="615.9" cy="404.7" rx="7.0" ry="6.8" fill="#98bcf0" transform="rotate(-46 615.9 404.7)" opacity="1"/>
<ellipse cx="615.9" cy="404.7" rx="2.5" ry="2.4" fill="#456cc0" transform="rotate(-46 615.9 404.7)" opacity="1"/>
<path d="M542.0 322.8L613.0 373.5" stroke="#79a6d6" stroke-width="8.2" stroke-linecap="round" opacity="1"/>
<path d="M542.8 321.7L613.8 372.4" stroke="#b6d5f4" stroke-width="2.8" stroke-linecap="round" opacity="0.75"/>
<ellipse cx="618.3" cy="372.6" rx="9.3" ry="6.4" fill="#5a7cc4" transform="rotate(-54 618.3 372.6)" opacity="1"/>
<ellipse cx="618.3" cy="372.1" rx="8.2" ry="4.6" fill="#8aa8e0" transform="rotate(-54 618.3 372.1)" opacity="1"/>
<ellipse cx="615.0" cy="372.0" rx="3.3" ry="2.7" fill="#d4e2f8" transform="rotate(-54 615.0 372.0)" opacity="0.9"/>
<polygon points="611.7,381.7 616.5,386.2 627.0,375.9 622.7,371.0" fill="#1c3a90" opacity="1"/>
<polygon points="615.8,385.7 627.3,396.8 637.3,387.0 626.6,375.3" fill="#4a7ccc" opacity="1"/>
<polygon points="616.2,385.4 627.6,396.5 630.6,393.6 619.8,381.9" fill="#1c3a90" opacity="0.85"/>
<polygon points="620.9,380.8 632.2,392.0 634.6,389.7 623.7,378.1" fill="#c6dcf8" opacity="0.95"/>
<polygon points="624.6,377.3 635.8,388.5 637.0,387.3 626.1,375.8" fill="#1c3a90" opacity="0.6"/>
<ellipse cx="633.4" cy="393.6" rx="5.8" ry="6.8" fill="#98bcf0" transform="rotate(-54 633.4 393.6)" opacity="1"/>
<ellipse cx="633.4" cy="393.6" rx="2.1" ry="2.4" fill="#456cc0" transform="rotate(-54 633.4 393.6)" opacity="1"/>
<path d="M1207.4 339.6L1242.3 418.5" stroke="#8c2f52" stroke-width="6.8" stroke-linecap="round" opacity="1"/>
<path d="M1208.4 339.2L1243.3 418.1" stroke="#b25a7e" stroke-width="2.3" stroke-linecap="round" opacity="0.75"/>
<ellipse cx="1243.0" cy="423.4" rx="9.6" ry="7.0" fill="#1c2480" transform="rotate(-24 1243.0 423.4)" opacity="1"/>
<ellipse cx="1243.0" cy="422.9" rx="8.4" ry="5.0" fill="#3346b8" transform="rotate(-24 1243.0 422.9)" opacity="1"/>
<ellipse cx="1239.6" cy="422.7" rx="3.5" ry="2.9" fill="#7894e4" transform="rotate(-24 1239.6 422.7)" opacity="0.9"/>
<polygon points="1236.7,426.4 1240.3,432.0 1253.4,424.5 1250.3,418.5" fill="#1a3aa0" opacity="1"/>
<polygon points="1239.8,431.4 1248.3,445.1 1260.7,437.9 1253.1,423.7" fill="#4f9ce4" opacity="1"/>
<polygon points="1240.2,431.2 1248.6,444.9 1252.4,442.7 1244.7,428.6" fill="#1a3aa0" opacity="0.85"/>
<polygon points="1246.1,427.8 1254.3,441.6 1257.3,439.9 1249.5,425.8" fill="#c0e2fc" opacity="0.95"/>
<polygon points="1250.6,425.2 1258.8,439.0 1260.3,438.1 1252.5,424.1" fill="#1a3aa0" opacity="0.6"/>
<ellipse cx="1256.0" cy="446.1" rx="7.8" ry="6.6" fill="#6c1a32" transform="rotate(-24 1256.0 446.1)" opacity="1"/>
<path d="M1213.5 336.2L1258.5 406.5" stroke="#b0325e" stroke-width="6.8" stroke-linecap="round" opacity="1"/>
<path d="M1214.4 335.6L1259.4 405.9" stroke="#d26c90" stroke-width="2.3" stroke-linecap="round" opacity="0.75"/>
<ellipse cx="1262.1" cy="409.7" rx="10.0" ry="6.0" fill="#1c2480" transform="rotate(-33 1262.1 409.7)" opacity="1"/>
<ellipse cx="1262.1" cy="409.2" rx="8.8" ry="4.3" fill="#3346b8" transform="rotate(-33 1262.1 409.2)" opacity="1"/>
<ellipse cx="1258.6" cy="409.1" rx="3.6" ry="2.5" fill="#7894e4" transform="rotate(-33 1258.6 409.1)" opacity="0.9"/>
<polygon points="1256.8,414.5 1260.6,420.2 1272.4,412.9 1269.1,407.0" fill="#1a3aa0" opacity="1"/>
<polygon points="1260.0,419.6 1269.0,433.2 1280.2,426.4 1272.1,412.2" fill="#4f9ce4" opacity="1"/>
<polygon points="1260.4,419.3 1269.3,433.1 1272.7,431.0 1264.5,416.8" fill="#1a3aa0" opacity="0.85"/>
<polygon points="1265.7,416.1 1274.5,429.9 1277.2,428.2 1268.9,414.2" fill="#c0e2fc" opacity="0.95"/>
<polygon points="1269.8,413.6 1278.5,427.4 1279.9,426.6 1271.5,412.5" fill="#1a3aa0" opacity="0.6"/>
<ellipse cx="1276.4" cy="432.7" rx="6.9" ry="6.2" fill="#cc2624" transform="rotate(-33 1276.4 432.7)" opacity="1"/>
<ellipse cx="1276.4" cy="432.7" rx="2.5" ry="2.2" fill="#5a1410" transform="rotate(-33 1276.4 432.7)" opacity="1"/>
<path d="M1221.6 336.2L1279.5 404.5" stroke="#17142e" stroke-width="7.6" stroke-linecap="round" opacity="1"/>
<path d="M1222.5 335.4L1280.4 403.7" stroke="#2e2c4e" stroke-width="2.6" stroke-linecap="round" opacity="0.75"/>
<ellipse cx="1286.0" cy="407.6" rx="9.2" ry="5.6" fill="#1c2480" transform="rotate(-40 1286.0 407.6)" opacity="1"/>
<ellipse cx="1286.0" cy="407.1" rx="8.1" ry="4.0" fill="#3346b8" transform="rotate(-40 1286.0 407.1)" opacity="1"/>
<ellipse cx="1282.8" cy="407.0" rx="3.3" ry="2.4" fill="#7894e4" transform="rotate(-40 1282.8 407.0)" opacity="0.9"/>
<polygon points="1279.5,414.5 1283.6,419.3 1294.6,410.7 1290.9,405.6" fill="#1a3aa0" opacity="1"/>
<polygon points="1283.1,418.8 1292.8,430.5 1303.2,422.3 1294.2,410.1" fill="#4f9ce4" opacity="1"/>
<polygon points="1283.4,418.5 1293.1,430.2 1296.2,427.8 1287.2,415.6" fill="#1a3aa0" opacity="0.85"/>
<polygon points="1288.3,414.7 1297.9,426.5 1300.4,424.6 1291.2,412.4" fill="#c0e2fc" opacity="0.95"/>
<polygon points="1292.1,411.7 1301.6,423.6 1302.9,422.6 1293.7,410.5" fill="#1a3aa0" opacity="0.6"/>
<ellipse cx="1299.4" cy="430.3" rx="6.9" ry="6.3" fill="#0c0b16" transform="rotate(-40 1299.4 430.3)" opacity="1"/>
<path d="M1226.3 330.1L1300.0 399.5" stroke="#17142e" stroke-width="7.6" stroke-linecap="round" opacity="1"/>
<path d="M1227.1 329.2L1300.8 398.6" stroke="#2e2c4e" stroke-width="2.6" stroke-linecap="round" opacity="0.75"/>
<ellipse cx="1304.6" cy="401.0" rx="7.6" ry="5.2" fill="#1c2480" transform="rotate(-47 1304.6 401.0)" opacity="1"/>
<ellipse cx="1304.6" cy="400.5" rx="6.7" ry="3.7" fill="#3346b8" transform="rotate(-47 1304.6 400.5)" opacity="1"/>
<ellipse cx="1301.9" cy="400.5" rx="2.7" ry="2.2" fill="#7894e4" transform="rotate(-47 1301.9 400.5)" opacity="0.9"/>
<polygon points="1300.1,406.5 1302.7,409.5 1312.4,402.1 1310.2,398.9" fill="#1a3aa0" opacity="1"/>
<polygon points="1302.3,409.2 1308.4,416.5 1317.6,409.5 1312.2,401.7" fill="#4f9ce4" opacity="1"/>
<polygon points="1302.6,409.0 1308.7,416.3 1311.4,414.2 1306.0,406.4" fill="#1a3aa0" opacity="0.85"/>
<polygon points="1307.0,405.7 1312.9,413.1 1315.1,411.4 1309.5,403.7" fill="#c0e2fc" opacity="0.95"/>
<polygon points="1310.3,403.1 1316.2,410.6 1317.3,409.7 1311.7,402.1" fill="#1a3aa0" opacity="0.6"/>
<ellipse cx="1315.4" cy="415.8" rx="6.5" ry="6.1" fill="#0c0b16" transform="rotate(-47 1315.4 415.8)" opacity="1"/>
<path d="M1231.1 326.8L1314.5 390.2" stroke="#3c98d6" stroke-width="7.8" stroke-linecap="round" opacity="1"/>
<path d="M1231.9 325.8L1315.3 389.2" stroke="#80c8f0" stroke-width="2.7" stroke-linecap="round" opacity="0.75"/>
<ellipse cx="1317.6" cy="391.5" rx="5.8" ry="4.6" fill="#1c2480" transform="rotate(-53 1317.6 391.5)" opacity="1"/>
<ellipse cx="1317.6" cy="391.0" rx="5.1" ry="3.3" fill="#3346b8" transform="rotate(-53 1317.6 391.0)" opacity="1"/>
<ellipse cx="1315.6" cy="391.0" rx="2.1" ry="1.9" fill="#7894e4" transform="rotate(-53 1315.6 391.0)" opacity="0.9"/>
<polygon points="1313.9,397.1 1317.1,399.9 1324.9,391.9 1322.0,388.8" fill="#1a3aa0" opacity="1"/>
<polygon points="1316.6,399.7 1324.3,406.6 1331.7,399.0 1324.6,391.5" fill="#4f9ce4" opacity="1"/>
<polygon points="1316.9,399.4 1324.5,406.4 1326.7,404.1 1319.6,396.6" fill="#1a3aa0" opacity="0.85"/>
<polygon points="1320.4,395.8 1327.9,402.9 1329.7,401.1 1322.5,393.7" fill="#c0e2fc" opacity="0.95"/>
<polygon points="1323.1,393.1 1330.6,400.2 1331.5,399.2 1324.2,391.9" fill="#1a3aa0" opacity="0.6"/>
<ellipse cx="1331.0" cy="404.5" rx="4.8" ry="5.6" fill="#7cb0f0" transform="rotate(-53 1331.0 404.5)" opacity="1"/>
<ellipse cx="1331.0" cy="404.5" rx="1.7" ry="2.0" fill="#3a64c8" transform="rotate(-53 1331.0 404.5)" opacity="1"/>
<path d="M1242.5 326.8L1337.5 387.0" stroke="#3c98d6" stroke-width="7.8" stroke-linecap="round" opacity="1"/>
<path d="M1243.2 325.7L1338.2 385.9" stroke="#80c8f0" stroke-width="2.7" stroke-linecap="round" opacity="0.75"/>
<ellipse cx="1341.0" cy="385.6" rx="5.6" ry="4.6" fill="#1c2480" transform="rotate(-58 1341.0 385.6)" opacity="1"/>
<ellipse cx="1341.0" cy="385.1" rx="4.9" ry="3.3" fill="#3346b8" transform="rotate(-58 1341.0 385.1)" opacity="1"/>
<ellipse cx="1339.0" cy="385.1" rx="2.0" ry="1.9" fill="#7894e4" transform="rotate(-58 1339.0 385.1)" opacity="0.9"/>
<polygon points="1337.2,392.3 1339.7,394.6 1347.1,387.6 1344.9,385.0" fill="#1a3aa0" opacity="1"/>
<polygon points="1339.4,394.4 1345.3,400.0 1352.3,393.4 1346.9,387.2" fill="#3f8ce0" opacity="1"/>
<polygon points="1339.6,394.2 1345.5,399.9 1347.6,397.9 1342.2,391.7" fill="#1a3aa0" opacity="0.85"/>
<polygon points="1342.9,391.0 1348.7,396.8 1350.4,395.2 1344.9,389.1" fill="#c0e2fc" opacity="0.95"/>
<polygon points="1345.5,388.6 1351.2,394.4 1352.1,393.6 1346.5,387.6" fill="#1a3aa0" opacity="0.6"/>
<ellipse cx="1351.4" cy="398.0" rx="3.9" ry="5.2" fill="#7cb0f0" transform="rotate(-58 1351.4 398.0)" opacity="1"/>
<ellipse cx="1351.4" cy="398.0" rx="1.4" ry="1.9" fill="#3a64c8" transform="rotate(-58 1351.4 398.0)" opacity="1"/>
</g></svg>
<div class="t" style="left:196.2px;top:331.4px;font-size:8.8px;letter-spacing:0px;font-weight:normal;color:#2e2e2e;">L</div>
<div class="t" style="left:146.3px;top:376.3px;font-size:9.4px;letter-spacing:0.6px;font-weight:normal;color:#2e2e2e;">ØD</div>
<div class="t" style="left:261.59999999999997px;top:402.6px;font-size:10.2px;letter-spacing:0.4px;font-weight:normal;color:#2e2e2e;">DK</div>
<div class="t" style="left:187.6px;top:426.1px;font-size:8.4px;letter-spacing:0px;font-weight:normal;color:#2e2e2e;">K</div>
<div class="t" style="left:934.6px;top:335.7px;font-size:8.8px;letter-spacing:0px;font-weight:normal;color:#2e2e2e;">L</div>
<div class="t" style="left:893.65px;top:378.9px;font-size:9.2px;letter-spacing:0.5px;font-weight:normal;color:#2e2e2e;">ØD</div>
<div class="t" style="left:986.1px;top:407.2px;font-size:9.2px;letter-spacing:0.4px;font-weight:normal;color:#2e2e2e;">ØDK</div>
<div class="t" style="left:928.2px;top:431.6px;font-size:8.8px;letter-spacing:0px;font-weight:normal;color:#2e2e2e;">K</div>
<div class="r" style="left:80.0px;top:459.4px;width:623.8px;height:92.20000000000005px;background:#9ab1c2;"></div>
<div class="tl" style="left:99.15px;top:497.6px;font-size:13.8px;letter-spacing:0.89px;font-weight:normal;color:#1c1c1c;">Rivet</div>
<div class="tl" style="left:102.75px;top:513.6px;font-size:13.8px;letter-spacing:0.985px;font-weight:normal;color:#1c1c1c;">Size</div>
<div class="t" style="left:184.0px;top:494.1px;font-size:14.8px;letter-spacing:0.9px;font-weight:normal;color:#1c1c1c;">D</div>
<div class="t" style="left:252.3px;top:494.1px;font-size:14.8px;letter-spacing:0.9px;font-weight:normal;color:#1c1c1c;">L</div>
<div class="t" style="left:325.7px;top:494.1px;font-size:14.8px;letter-spacing:0.9px;font-weight:normal;color:#1c1c1c;">DK</div>
<div class="t" style="left:392.3px;top:494.1px;font-size:14.8px;letter-spacing:0.9px;font-weight:normal;color:#1c1c1c;">K</div>
<div class="tl" style="left:157.72px;top:533.4px;font-size:9.4px;letter-spacing:0.701px;font-weight:normal;color:#2a2a2a;">+0.09 -0.1</div>
<div class="tl" style="left:228.32px;top:533.4px;font-size:9.4px;letter-spacing:0.864px;font-weight:normal;color:#2a2a2a;">+0.1-0.2</div>
<div class="tl" style="left:300.42px;top:533.4px;font-size:9.4px;letter-spacing:0.964px;font-weight:normal;color:#2a2a2a;">+0.4-0.2</div>
<div class="tl" style="left:370.32px;top:533.4px;font-size:9.4px;letter-spacing:0.921px;font-weight:normal;color:#2a2a2a;">+0.2-0.2</div>
<svg class="s" style="left:438.85px;top:530.10px" width="43.6" height="13.0" viewBox="-2 -9.3 43.6 13.0"><text class="cj" x="0" y="0" font-size="9.3" fill="#1e1e1e" style="letter-spacing:0.8px">铆接厚度</text></svg>
<svg class="s" style="left:508.55px;top:530.10px" width="43.6" height="13.0" viewBox="-2 -9.3 43.6 13.0"><text class="cj" x="0" y="0" font-size="9.3" fill="#1e1e1e" style="letter-spacing:0.8px">钻孔直径</text></svg>
<svg class="s" style="left:583.95px;top:529.90px" width="33.7" height="13.0" viewBox="-2 -9.3 33.7 13.0"><text class="cj" x="0" y="0" font-size="9.3" fill="#1e1e1e" style="letter-spacing:0.8px">抗剪力</text></svg>
<svg class="s" style="left:653.05px;top:529.90px" width="33.7" height="13.0" viewBox="-2 -9.3 33.7 13.0"><text class="cj" x="0" y="0" font-size="9.3" fill="#1e1e1e" style="letter-spacing:0.8px">抗拉力</text></svg>
<div class="t" style="left:600.8px;top:547.0px;font-size:5.7px;letter-spacing:0.25px;font-weight:bold;color:#444;">(Min)N</div>
<div class="t" style="left:669.8999999999999px;top:547.0px;font-size:5.7px;letter-spacing:0.25px;font-weight:bold;color:#444;">(Min)N</div>
<div class="t" style="left:115.55px;top:642.4px;font-size:9.0px;letter-spacing:0.55px;font-weight:normal;color:#1c1c1c;">3.0</div>
<div class="t" style="left:183.7px;top:642.4px;font-size:9.0px;letter-spacing:0.55px;font-weight:normal;color:#1c1c1c;">3.0</div>
<div class="t" style="left:322.84999999999997px;top:642.4px;font-size:9.0px;letter-spacing:0.55px;font-weight:normal;color:#1c1c1c;">5.0</div>
<div class="t" style="left:391.40000000000003px;top:642.4px;font-size:9.0px;letter-spacing:0.55px;font-weight:normal;color:#1c1c1c;">1.0</div>
<div class="t" style="left:531.05px;top:642.4px;font-size:9.0px;letter-spacing:0.55px;font-weight:normal;color:#1c1c1c;">3.1-3.2</div>
<div class="t" style="left:600.2px;top:642.4px;font-size:9.0px;letter-spacing:0.55px;font-weight:normal;color:#1c1c1c;">1100</div>
<div class="t" style="left:669.0999999999999px;top:642.4px;font-size:9.0px;letter-spacing:0.55px;font-weight:normal;color:#1c1c1c;">900</div>
<div class="t" style="left:253.7px;top:560.925px;font-size:9.0px;letter-spacing:0.55px;font-weight:normal;color:#1c1c1c;">2.1</div>
<div class="tl" style="left:444.2px;top:561.425px;font-size:9.0px;letter-spacing:0.7000000000000001px;font-weight:normal;color:#1c1c1c;">1.6</div>
<div class="r" style="left:218.5px;top:567.15px;width:69.19999999999999px;height:1px;background:#333;"></div>
<div class="r" style="left:426.8px;top:567.15px;width:68.69999999999999px;height:1px;background:#333;"></div>
<div class="t" style="left:253.7px;top:576.645px;font-size:9.0px;letter-spacing:0.55px;font-weight:normal;color:#1c1c1c;">2.4</div>
<div class="tl" style="left:444.2px;top:577.145px;font-size:9.0px;letter-spacing:0.7000000000000001px;font-weight:normal;color:#1c1c1c;">1.6-2.0</div>
<div class="r" style="left:218.5px;top:582.54px;width:69.19999999999999px;height:1px;background:#888;"></div>
<div class="r" style="left:426.8px;top:582.54px;width:68.69999999999999px;height:1px;background:#888;"></div>
<div class="t" style="left:253.7px;top:592.0349999999999px;font-size:9.0px;letter-spacing:0.55px;font-weight:normal;color:#1c1c1c;">2.6</div>
<div class="tl" style="left:444.2px;top:592.5349999999999px;font-size:9.0px;letter-spacing:0.7000000000000001px;font-weight:normal;color:#1c1c1c;">1.8-2.3</div>
<div class="r" style="left:218.5px;top:597.93px;width:69.19999999999999px;height:1px;background:#d8d8d8;"></div>
<div class="r" style="left:426.8px;top:597.93px;width:68.69999999999999px;height:1px;background:#d8d8d8;"></div>
<div class="t" style="left:253.7px;top:607.425px;font-size:9.0px;letter-spacing:0.55px;font-weight:normal;color:#1c1c1c;">2.8</div>
<div class="tl" style="left:444.2px;top:607.925px;font-size:9.0px;letter-spacing:0.7000000000000001px;font-weight:normal;color:#1c1c1c;">2.0-2.5</div>
<div class="r" style="left:218.5px;top:613.3199999999999px;width:69.19999999999999px;height:1px;background:#333;"></div>
<div class="r" style="left:426.8px;top:613.3199999999999px;width:68.69999999999999px;height:1px;background:#333;"></div>
<div class="t" style="left:253.7px;top:622.8149999999999px;font-size:9.0px;letter-spacing:0.55px;font-weight:normal;color:#1c1c1c;">3.0</div>
<div class="tl" style="left:444.2px;top:623.3149999999999px;font-size:9.0px;letter-spacing:0.7000000000000001px;font-weight:normal;color:#1c1c1c;">2.3-2.8</div>
<div class="r" style="left:218.5px;top:628.71px;width:69.19999999999999px;height:1px;background:#333;"></div>
<div class="r" style="left:426.8px;top:628.71px;width:68.69999999999999px;height:1px;background:#333;"></div>
<div class="t" style="left:253.7px;top:638.2049999999999px;font-size:9.0px;letter-spacing:0.55px;font-weight:normal;color:#1c1c1c;">3.3</div>
<div class="tl" style="left:444.2px;top:638.7049999999999px;font-size:9.0px;letter-spacing:0.7000000000000001px;font-weight:normal;color:#1c1c1c;">2.5-3.0</div>
<div class="r" style="left:218.5px;top:644.1px;width:69.19999999999999px;height:1px;background:#333;"></div>
<div class="r" style="left:426.8px;top:644.1px;width:68.69999999999999px;height:1px;background:#333;"></div>
<div class="t" style="left:253.7px;top:653.595px;font-size:9.0px;letter-spacing:0.55px;font-weight:normal;color:#1c1c1c;">3.8</div>
<div class="tl" style="left:444.2px;top:654.095px;font-size:9.0px;letter-spacing:0.7000000000000001px;font-weight:normal;color:#1c1c1c;">3.0-3.5</div>
<div class="r" style="left:218.5px;top:659.49px;width:69.19999999999999px;height:1px;background:#888;"></div>
<div class="r" style="left:426.8px;top:659.49px;width:68.69999999999999px;height:1px;background:#888;"></div>
<div class="t" style="left:253.7px;top:668.9849999999999px;font-size:9.0px;letter-spacing:0.55px;font-weight:normal;color:#1c1c1c;">4.3</div>
<div class="tl" style="left:444.2px;top:669.4849999999999px;font-size:9.0px;letter-spacing:0.7000000000000001px;font-weight:normal;color:#1c1c1c;">3.5-4.0</div>
<div class="r" style="left:218.5px;top:674.88px;width:69.19999999999999px;height:1px;background:#d8d8d8;"></div>
<div class="r" style="left:426.8px;top:674.88px;width:68.69999999999999px;height:1px;background:#d8d8d8;"></div>
<div class="t" style="left:253.7px;top:684.375px;font-size:9.0px;letter-spacing:0.55px;font-weight:normal;color:#1c1c1c;">4.8</div>
<div class="tl" style="left:444.2px;top:684.875px;font-size:9.0px;letter-spacing:0.7000000000000001px;font-weight:normal;color:#1c1c1c;">4.0-4.5</div>
<div class="r" style="left:218.5px;top:690.27px;width:69.19999999999999px;height:1px;background:#333;"></div>
<div class="r" style="left:426.8px;top:690.27px;width:68.69999999999999px;height:1px;background:#333;"></div>
<div class="t" style="left:253.7px;top:699.7649999999999px;font-size:9.0px;letter-spacing:0.55px;font-weight:normal;color:#1c1c1c;">5.3</div>
<div class="tl" style="left:444.2px;top:700.2649999999999px;font-size:9.0px;letter-spacing:0.7000000000000001px;font-weight:normal;color:#1c1c1c;">4.5-5.0</div>
<div class="r" style="left:218.5px;top:705.66px;width:69.19999999999999px;height:1px;background:#333;"></div>
<div class="r" style="left:426.8px;top:705.66px;width:68.69999999999999px;height:1px;background:#333;"></div>
<div class="t" style="left:253.7px;top:715.155px;font-size:9.0px;letter-spacing:0.55px;font-weight:normal;color:#1c1c1c;">5.8</div>
<div class="tl" style="left:444.2px;top:715.655px;font-size:9.0px;letter-spacing:0.7000000000000001px;font-weight:normal;color:#1c1c1c;">5.0-5.5</div>
<div class="r" style="left:218.5px;top:721.05px;width:69.19999999999999px;height:1px;background:#333;"></div>
<div class="r" style="left:426.8px;top:721.05px;width:68.69999999999999px;height:1px;background:#333;"></div>
<div class="t" style="left:253.7px;top:730.5449999999998px;font-size:9.0px;letter-spacing:0.55px;font-weight:normal;color:#1c1c1c;">6.3</div>
<div class="tl" style="left:444.2px;top:731.0449999999998px;font-size:9.0px;letter-spacing:0.7000000000000001px;font-weight:normal;color:#1c1c1c;">5.5-6.0</div>
<div class="t" style="left:115.55px;top:830.4px;font-size:9.0px;letter-spacing:0.55px;font-weight:normal;color:#1c1c1c;">3.2</div>
<div class="t" style="left:183.7px;top:830.4px;font-size:9.0px;letter-spacing:0.55px;font-weight:normal;color:#1c1c1c;">3.2</div>
<div class="t" style="left:322.84999999999997px;top:830.4px;font-size:9.0px;letter-spacing:0.55px;font-weight:normal;color:#1c1c1c;">5.0</div>
<div class="t" style="left:391.40000000000003px;top:830.4px;font-size:9.0px;letter-spacing:0.55px;font-weight:normal;color:#1c1c1c;">1.0</div>
<div class="t" style="left:531.05px;top:830.4px;font-size:9.0px;letter-spacing:0.55px;font-weight:normal;color:#1c1c1c;">3.3-3.4</div>
<div class="t" style="left:600.2px;top:830.4px;font-size:9.0px;letter-spacing:0.55px;font-weight:normal;color:#1c1c1c;">1200</div>
<div class="t" style="left:671.3999999999999px;top:830.4px;font-size:9.0px;letter-spacing:0.55px;font-weight:normal;color:#1c1c1c;">1100</div>
<div class="t" style="left:253.7px;top:745.7249999999999px;font-size:9.0px;letter-spacing:0.55px;font-weight:normal;color:#1c1c1c;">2.1</div>
<div class="tl" style="left:444.2px;top:746.2249999999999px;font-size:9.0px;letter-spacing:0.7000000000000001px;font-weight:normal;color:#1c1c1c;">1.6</div>
<div class="r" style="left:218.5px;top:751.9499999999999px;width:69.19999999999999px;height:1px;background:#888;"></div>
<div class="r" style="left:426.8px;top:751.9499999999999px;width:68.69999999999999px;height:1px;background:#888;"></div>
<div class="t" style="left:253.7px;top:761.4449999999999px;font-size:9.0px;letter-spacing:0.55px;font-weight:normal;color:#1c1c1c;">2.4</div>
<div class="tl" style="left:444.2px;top:761.9449999999999px;font-size:9.0px;letter-spacing:0.7000000000000001px;font-weight:normal;color:#1c1c1c;">1.6-2.0</div>
<div class="r" style="left:218.5px;top:767.3399999999999px;width:69.19999999999999px;height:1px;background:#333;"></div>
<div class="r" style="left:426.8px;top:767.3399999999999px;width:68.69999999999999px;height:1px;background:#333;"></div>
<div class="t" style="left:253.7px;top:776.8349999999998px;font-size:9.0px;letter-spacing:0.55px;font-weight:normal;color:#1c1c1c;">2.6</div>
<div class="tl" style="left:444.2px;top:777.3349999999998px;font-size:9.0px;letter-spacing:0.7000000000000001px;font-weight:normal;color:#1c1c1c;">1.8-2.3</div>
<div class="r" style="left:218.5px;top:782.7299999999999px;width:69.19999999999999px;height:1px;background:#333;"></div>
<div class="r" style="left:426.8px;top:782.7299999999999px;width:68.69999999999999px;height:1px;background:#333;"></div>
<div class="t" style="left:253.7px;top:792.2249999999999px;font-size:9.0px;letter-spacing:0.55px;font-weight:normal;color:#1c1c1c;">2.8</div>
<div class="tl" style="left:444.2px;top:792.7249999999999px;font-size:9.0px;letter-spacing:0.7000000000000001px;font-weight:normal;color:#1c1c1c;">2.0-2.5</div>
<div class="r" style="left:218.5px;top:798.1199999999999px;width:69.19999999999999px;height:1px;background:#333;"></div>
<div class="r" style="left:426.8px;top:798.1199999999999px;width:68.69999999999999px;height:1px;background:#333;"></div>
<div class="t" style="left:253.7px;top:807.6149999999999px;font-size:9.0px;letter-spacing:0.55px;font-weight:normal;color:#1c1c1c;">3.0</div>
<div class="tl" style="left:444.2px;top:808.1149999999999px;font-size:9.0px;letter-spacing:0.7000000000000001px;font-weight:normal;color:#1c1c1c;">2.3-2.8</div>
<div class="r" style="left:218.5px;top:813.51px;width:69.19999999999999px;height:1px;background:#d8d8d8;"></div>
<div class="r" style="left:426.8px;top:813.51px;width:68.69999999999999px;height:1px;background:#d8d8d8;"></div>
<div class="t" style="left:253.7px;top:823.0049999999999px;font-size:9.0px;letter-spacing:0.55px;font-weight:normal;color:#1c1c1c;">3.3</div>
<div class="tl" style="left:444.2px;top:823.5049999999999px;font-size:9.0px;letter-spacing:0.7000000000000001px;font-weight:normal;color:#1c1c1c;">2.5-3.0</div>
<div class="r" style="left:218.5px;top:828.9px;width:69.19999999999999px;height:1px;background:#888;"></div>
<div class="r" style="left:426.8px;top:828.9px;width:68.69999999999999px;height:1px;background:#888;"></div>
<div class="t" style="left:253.7px;top:838.395px;font-size:9.0px;letter-spacing:0.55px;font-weight:normal;color:#1c1c1c;">3.8</div>
<div class="tl" style="left:444.2px;top:838.895px;font-size:9.0px;letter-spacing:0.7000000000000001px;font-weight:normal;color:#1c1c1c;">3.0-3.5</div>
<div class="r" style="left:218.5px;top:844.29px;width:69.19999999999999px;height:1px;background:#333;"></div>
<div class="r" style="left:426.8px;top:844.29px;width:68.69999999999999px;height:1px;background:#333;"></div>
<div class="t" style="left:253.7px;top:853.7849999999999px;font-size:9.0px;letter-spacing:0.55px;font-weight:normal;color:#1c1c1c;">4.3</div>
<div class="tl" style="left:444.2px;top:854.2849999999999px;font-size:9.0px;letter-spacing:0.7000000000000001px;font-weight:normal;color:#1c1c1c;">3.5-4.0</div>
<div class="r" style="left:218.5px;top:859.68px;width:69.19999999999999px;height:1px;background:#333;"></div>
<div class="r" style="left:426.8px;top:859.68px;width:68.69999999999999px;height:1px;background:#333;"></div>
<div class="t" style="left:253.7px;top:869.175px;font-size:9.0px;letter-spacing:0.55px;font-weight:normal;color:#1c1c1c;">4.8</div>
<div class="tl" style="left:444.2px;top:869.675px;font-size:9.0px;letter-spacing:0.7000000000000001px;font-weight:normal;color:#1c1c1c;">4.0-4.5</div>
<div class="r" style="left:218.5px;top:875.0699999999999px;width:69.19999999999999px;height:1px;background:#888;"></div>
<div class="r" style="left:426.8px;top:875.0699999999999px;width:68.69999999999999px;height:1px;background:#888;"></div>
<div class="t" style="left:253.7px;top:884.5649999999998px;font-size:9.0px;letter-spacing:0.55px;font-weight:normal;color:#1c1c1c;">5.3</div>
<div class="tl" style="left:444.2px;top:885.0649999999998px;font-size:9.0px;letter-spacing:0.7000000000000001px;font-weight:normal;color:#1c1c1c;">4.5-5.0</div>
<div class="r" style="left:218.5px;top:890.4599999999999px;width:69.19999999999999px;height:1px;background:#d8d8d8;"></div>
<div class="r" style="left:426.8px;top:890.4599999999999px;width:68.69999999999999px;height:1px;background:#d8d8d8;"></div>
<div class="t" style="left:253.7px;top:899.9549999999999px;font-size:9.0px;letter-spacing:0.55px;font-weight:normal;color:#1c1c1c;">5.8</div>
<div class="tl" style="left:444.2px;top:900.4549999999999px;font-size:9.0px;letter-spacing:0.7000000000000001px;font-weight:normal;color:#1c1c1c;">5.0-5.5</div>
<div class="r" style="left:218.5px;top:905.8499999999999px;width:69.19999999999999px;height:1px;background:#333;"></div>
<div class="r" style="left:426.8px;top:905.8499999999999px;width:68.69999999999999px;height:1px;background:#333;"></div>
<div class="t" style="left:253.7px;top:915.3449999999998px;font-size:9.0px;letter-spacing:0.55px;font-weight:normal;color:#1c1c1c;">6.3</div>
<div class="tl" style="left:444.2px;top:915.8449999999998px;font-size:9.0px;letter-spacing:0.7000000000000001px;font-weight:normal;color:#1c1c1c;">5.5-6.0</div>
<div class="r" style="left:80.0px;top:458.9px;width:623.8px;height:1px;background:#5d6a74;"></div>
<div class="r" style="left:80.0px;top:550.95px;width:623.8px;height:1.3px;background:#2a2a2a;"></div>
<div class="r" style="left:149.5px;top:521.1px;width:554.3px;height:1px;background:#93aabb;"></div>
<div class="r" style="left:80.0px;top:735.9px;width:623.8px;height:1px;background:#cdcdcd;"></div>
<div class="r" style="left:80.0px;top:920.65px;width:623.8px;height:1.3px;background:#555;"></div>
<div class="r" style="left:79.5px;top:459.4px;width:1.0px;height:461.9px;background:#3c3c3c;"></div>
<div class="r" style="left:149.0px;top:459.4px;width:1px;height:92.20000000000005px;background:#8097a8;"></div>
<div class="r" style="left:149.0px;top:551.6px;width:1px;height:369.69999999999993px;background:#c4c4c4;"></div>
<div class="r" style="left:218.0px;top:459.4px;width:1px;height:92.20000000000005px;background:#2f3a42;"></div>
<div class="r" style="left:218.0px;top:551.6px;width:1px;height:369.69999999999993px;background:#3a3a3a;"></div>
<div class="r" style="left:287.2px;top:459.4px;width:1px;height:92.20000000000005px;background:#8097a8;"></div>
<div class="r" style="left:287.2px;top:551.6px;width:1px;height:369.69999999999993px;background:#c4c4c4;"></div>
<div class="r" style="left:357.1px;top:459.4px;width:1px;height:92.20000000000005px;background:#8097a8;"></div>
<div class="r" style="left:357.1px;top:551.6px;width:1px;height:369.69999999999993px;background:#c4c4c4;"></div>
<div class="r" style="left:426.3px;top:459.4px;width:1px;height:92.20000000000005px;background:#2f3a42;"></div>
<div class="r" style="left:426.3px;top:551.6px;width:1px;height:369.69999999999993px;background:#3a3a3a;"></div>
<div class="r" style="left:495.0px;top:459.4px;width:1px;height:92.20000000000005px;background:#8097a8;"></div>
<div class="r" style="left:495.0px;top:551.6px;width:1px;height:369.69999999999993px;background:#c4c4c4;"></div>
<div class="r" style="left:565.1px;top:459.4px;width:1px;height:92.20000000000005px;background:#6f8392;"></div>
<div class="r" style="left:565.1px;top:551.6px;width:1px;height:369.69999999999993px;background:#8c8c8c;"></div>
<div class="r" style="left:633.9px;top:459.4px;width:1px;height:92.20000000000005px;background:#2f3a42;"></div>
<div class="r" style="left:633.9px;top:551.6px;width:1px;height:369.69999999999993px;background:#3a3a3a;"></div>
<div class="r" style="left:703.3px;top:459.4px;width:1px;height:92.20000000000005px;background:#9ab1c2;"></div>
<div class="r" style="left:703.3px;top:551.6px;width:1px;height:369.69999999999993px;background:#e2e2e2;"></div>
<div class="r" style="left:797.3px;top:466.6px;width:623.9000000000001px;height:90.79999999999995px;background:#9ab1c2;"></div>
<div class="tl" style="left:816.55px;top:504.6px;font-size:13.8px;letter-spacing:0.89px;font-weight:normal;color:#1c1c1c;">Rivet</div>
<div class="tl" style="left:820.25px;top:519.9px;font-size:13.8px;letter-spacing:0.985px;font-weight:normal;color:#1c1c1c;">Size</div>
<div class="t" style="left:901.2px;top:500.5px;font-size:14.8px;letter-spacing:0.9px;font-weight:normal;color:#1c1c1c;">D</div>
<div class="t" style="left:968.8px;top:500.5px;font-size:14.8px;letter-spacing:0.9px;font-weight:bold;color:#1c1c1c;">L</div>
<div class="t" style="left:1041.3px;top:500.5px;font-size:14.8px;letter-spacing:0.9px;font-weight:normal;color:#1c1c1c;">DK</div>
<div class="t" style="left:1107.0px;top:500.5px;font-size:14.8px;letter-spacing:0.9px;font-weight:normal;color:#1c1c1c;">K</div>
<div class="tl" style="left:874.32px;top:540.4px;font-size:9.4px;letter-spacing:0.667px;font-weight:normal;color:#2a2a2a;">+0.09 -0.1</div>
<div class="tl" style="left:944.62px;top:540.4px;font-size:9.4px;letter-spacing:0.864px;font-weight:normal;color:#2a2a2a;">+0.1-0.2</div>
<div class="tl" style="left:1016.22px;top:540.4px;font-size:9.4px;letter-spacing:0.992px;font-weight:normal;color:#2a2a2a;">+0.4-0.2</div>
<div class="tl" style="left:1084.62px;top:540.4px;font-size:9.4px;letter-spacing:0.964px;font-weight:normal;color:#2a2a2a;">+0.2-0.2</div>
<svg class="s" style="left:1152.55px;top:536.10px" width="43.6" height="13.0" viewBox="-2 -9.3 43.6 13.0"><text class="cj" x="0" y="0" font-size="9.3" fill="#1e1e1e" style="letter-spacing:0.8px">铆接厚度</text></svg>
<svg class="s" style="left:1221.95px;top:536.10px" width="43.6" height="13.0" viewBox="-2 -9.3 43.6 13.0"><text class="cj" x="0" y="0" font-size="9.3" fill="#1e1e1e" style="letter-spacing:0.8px">钻孔直径</text></svg>
<svg class="s" style="left:1296.85px;top:535.90px" width="33.7" height="13.0" viewBox="-2 -9.3 33.7 13.0"><text class="cj" x="0" y="0" font-size="9.3" fill="#1e1e1e" style="letter-spacing:0.8px">抗剪力</text></svg>
<svg class="s" style="left:1368.15px;top:535.90px" width="33.7" height="13.0" viewBox="-2 -9.3 33.7 13.0"><text class="cj" x="0" y="0" font-size="9.3" fill="#1e1e1e" style="letter-spacing:0.8px">抗拉力</text></svg>
<div class="t" style="left:1313.7px;top:552.0px;font-size:5.7px;letter-spacing:0.25px;font-weight:bold;color:#444;">(Min)N</div>
<div class="t" style="left:1385.0px;top:552.0px;font-size:5.7px;letter-spacing:0.25px;font-weight:bold;color:#444;">(Min)N</div>
<div class="t" style="left:832.3999999999999px;top:647.4px;font-size:9.0px;letter-spacing:0.55px;font-weight:normal;color:#1c1c1c;">3.0</div>
<div class="t" style="left:900.55px;top:647.4px;font-size:9.0px;letter-spacing:0.55px;font-weight:normal;color:#1c1c1c;">3.0</div>
<div class="t" style="left:1037.2500000000002px;top:647.4px;font-size:9.0px;letter-spacing:0.55px;font-weight:normal;color:#1c1c1c;">5.0</div>
<div class="t" style="left:1106.6000000000001px;top:647.4px;font-size:9.0px;letter-spacing:0.55px;font-weight:normal;color:#1c1c1c;">1.0</div>
<div class="t" style="left:1244.0499999999997px;top:647.4px;font-size:9.0px;letter-spacing:0.55px;font-weight:normal;color:#1c1c1c;">3.1-3.2</div>
<div class="t" style="left:1312.5px;top:647.4px;font-size:9.0px;letter-spacing:0.55px;font-weight:normal;color:#1c1c1c;">1100</div>
<div class="t" style="left:1380.6000000000001px;top:647.4px;font-size:9.0px;letter-spacing:0.55px;font-weight:normal;color:#1c1c1c;">900</div>
<div class="t" style="left:969.7500000000001px;top:566.7249999999999px;font-size:9.0px;letter-spacing:0.55px;font-weight:normal;color:#1c1c1c;">2.1</div>
<div class="tl" style="left:1158.6000000000001px;top:567.0249999999999px;font-size:9.0px;letter-spacing:0.7000000000000001px;font-weight:normal;color:#1c1c1c;">1.6</div>
<div class="r" style="left:934.6px;top:572.9499999999999px;width:69.10000000000002px;height:1px;background:#d8d8d8;"></div>
<div class="r" style="left:1140.4px;top:572.9499999999999px;width:68.89999999999986px;height:1px;background:#d8d8d8;"></div>
<div class="t" style="left:969.7500000000001px;top:582.3749999999999px;font-size:9.0px;letter-spacing:0.55px;font-weight:normal;color:#1c1c1c;">2.4</div>
<div class="tl" style="left:1158.6000000000001px;top:582.6749999999998px;font-size:9.0px;letter-spacing:0.7000000000000001px;font-weight:normal;color:#1c1c1c;">1.6-2.0</div>
<div class="r" style="left:934.6px;top:588.1999999999999px;width:69.10000000000002px;height:1px;background:#333;"></div>
<div class="r" style="left:1140.4px;top:588.1999999999999px;width:68.89999999999986px;height:1px;background:#333;"></div>
<div class="t" style="left:969.7500000000001px;top:597.6249999999999px;font-size:9.0px;letter-spacing:0.55px;font-weight:normal;color:#1c1c1c;">2.6</div>
<div class="tl" style="left:1158.6000000000001px;top:597.9249999999998px;font-size:9.0px;letter-spacing:0.7000000000000001px;font-weight:normal;color:#1c1c1c;">1.8-2.3</div>
<div class="r" style="left:934.6px;top:603.4499999999999px;width:69.10000000000002px;height:1px;background:#333;"></div>
<div class="r" style="left:1140.4px;top:603.4499999999999px;width:68.89999999999986px;height:1px;background:#333;"></div>
<div class="t" style="left:969.7500000000001px;top:612.8749999999999px;font-size:9.0px;letter-spacing:0.55px;font-weight:normal;color:#1c1c1c;">2.8</div>
<div class="tl" style="left:1158.6000000000001px;top:613.1749999999998px;font-size:9.0px;letter-spacing:0.7000000000000001px;font-weight:normal;color:#1c1c1c;">2.0-2.5</div>
<div class="r" style="left:934.6px;top:618.6999999999999px;width:69.10000000000002px;height:1px;background:#888;"></div>
<div class="r" style="left:1140.4px;top:618.6999999999999px;width:68.89999999999986px;height:1px;background:#888;"></div>
<div class="t" style="left:969.7500000000001px;top:628.1249999999999px;font-size:9.0px;letter-spacing:0.55px;font-weight:normal;color:#1c1c1c;">3.0</div>
<div class="tl" style="left:1158.6000000000001px;top:628.4249999999998px;font-size:9.0px;letter-spacing:0.7000000000000001px;font-weight:normal;color:#1c1c1c;">2.3-2.8</div>
<div class="r" style="left:934.6px;top:633.9499999999999px;width:69.10000000000002px;height:1px;background:#333;"></div>
<div class="r" style="left:1140.4px;top:633.9499999999999px;width:68.89999999999986px;height:1px;background:#333;"></div>
<div class="t" style="left:969.7500000000001px;top:643.3749999999999px;font-size:9.0px;letter-spacing:0.55px;font-weight:normal;color:#1c1c1c;">3.3</div>
<div class="tl" style="left:1158.6000000000001px;top:643.6749999999998px;font-size:9.0px;letter-spacing:0.7000000000000001px;font-weight:normal;color:#1c1c1c;">2.5-3.0</div>
<div class="r" style="left:934.6px;top:649.1999999999999px;width:69.10000000000002px;height:1px;background:#333;"></div>
<div class="r" style="left:1140.4px;top:649.1999999999999px;width:68.89999999999986px;height:1px;background:#333;"></div>
<div class="t" style="left:969.7500000000001px;top:658.6249999999999px;font-size:9.0px;letter-spacing:0.55px;font-weight:normal;color:#1c1c1c;">3.8</div>
<div class="tl" style="left:1158.6000000000001px;top:658.9249999999998px;font-size:9.0px;letter-spacing:0.7000000000000001px;font-weight:normal;color:#1c1c1c;">3.0-3.5</div>
<div class="r" style="left:934.6px;top:664.4499999999999px;width:69.10000000000002px;height:1px;background:#888;"></div>
<div class="r" style="left:1140.4px;top:664.4499999999999px;width:68.89999999999986px;height:1px;background:#888;"></div>
<div class="t" style="left:969.7500000000001px;top:673.8749999999999px;font-size:9.0px;letter-spacing:0.55px;font-weight:normal;color:#1c1c1c;">4.3</div>
<div class="tl" style="left:1158.6000000000001px;top:674.1749999999998px;font-size:9.0px;letter-spacing:0.7000000000000001px;font-weight:normal;color:#1c1c1c;">3.5-4.0</div>
<div class="r" style="left:934.6px;top:679.6999999999999px;width:69.10000000000002px;height:1px;background:#333;"></div>
<div class="r" style="left:1140.4px;top:679.6999999999999px;width:68.89999999999986px;height:1px;background:#333;"></div>
<div class="t" style="left:969.7500000000001px;top:689.1249999999999px;font-size:9.0px;letter-spacing:0.55px;font-weight:normal;color:#1c1c1c;">4.8</div>
<div class="tl" style="left:1158.6000000000001px;top:689.4249999999998px;font-size:9.0px;letter-spacing:0.7000000000000001px;font-weight:normal;color:#1c1c1c;">4.0-4.5</div>
<div class="r" style="left:934.6px;top:694.9499999999999px;width:69.10000000000002px;height:1px;background:#888;"></div>
<div class="r" style="left:1140.4px;top:694.9499999999999px;width:68.89999999999986px;height:1px;background:#888;"></div>
<div class="t" style="left:969.7500000000001px;top:704.3749999999999px;font-size:9.0px;letter-spacing:0.55px;font-weight:normal;color:#1c1c1c;">5.3</div>
<div class="tl" style="left:1158.6000000000001px;top:704.6749999999998px;font-size:9.0px;letter-spacing:0.7000000000000001px;font-weight:normal;color:#1c1c1c;">4.5-5.0</div>
<div class="r" style="left:934.6px;top:710.1999999999999px;width:69.10000000000002px;height:1px;background:#d8d8d8;"></div>
<div class="r" style="left:1140.4px;top:710.1999999999999px;width:68.89999999999986px;height:1px;background:#d8d8d8;"></div>
<div class="t" style="left:969.7500000000001px;top:719.6249999999999px;font-size:9.0px;letter-spacing:0.55px;font-weight:normal;color:#1c1c1c;">5.8</div>
<div class="tl" style="left:1158.6000000000001px;top:719.9249999999998px;font-size:9.0px;letter-spacing:0.7000000000000001px;font-weight:normal;color:#1c1c1c;">5.0-5.5</div>
<div class="r" style="left:934.6px;top:725.4499999999999px;width:69.10000000000002px;height:1px;background:#d8d8d8;"></div>
<div class="r" style="left:1140.4px;top:725.4499999999999px;width:68.89999999999986px;height:1px;background:#d8d8d8;"></div>
<div class="t" style="left:969.7500000000001px;top:734.8749999999999px;font-size:9.0px;letter-spacing:0.55px;font-weight:normal;color:#1c1c1c;">6.3</div>
<div class="tl" style="left:1158.6000000000001px;top:735.1749999999998px;font-size:9.0px;letter-spacing:0.7000000000000001px;font-weight:normal;color:#1c1c1c;">5.5-6.0</div>
<div class="t" style="left:832.3999999999999px;top:829.9px;font-size:9.0px;letter-spacing:0.55px;font-weight:normal;color:#1c1c1c;">3.2</div>
<div class="t" style="left:900.55px;top:829.9px;font-size:9.0px;letter-spacing:0.55px;font-weight:normal;color:#1c1c1c;">3.2</div>
<div class="t" style="left:1037.2500000000002px;top:832.1px;font-size:9.0px;letter-spacing:0.55px;font-weight:normal;color:#1c1c1c;">5.0</div>
<div class="t" style="left:1106.6000000000001px;top:829.9px;font-size:9.0px;letter-spacing:0.55px;font-weight:normal;color:#1c1c1c;">1.0</div>
<div class="t" style="left:1244.0499999999997px;top:829.9px;font-size:9.0px;letter-spacing:0.55px;font-weight:normal;color:#1c1c1c;">3.3-3.4</div>
<div class="t" style="left:1312.5px;top:829.9px;font-size:9.0px;letter-spacing:0.55px;font-weight:normal;color:#1c1c1c;">1200</div>
<div class="t" style="left:1383.1000000000001px;top:829.9px;font-size:9.0px;letter-spacing:0.55px;font-weight:normal;color:#1c1c1c;">1100</div>
<div class="t" style="left:969.7500000000001px;top:750.3249999999999px;font-size:9.0px;letter-spacing:0.55px;font-weight:normal;color:#1c1c1c;">2.1</div>
<div class="tl" style="left:1158.6000000000001px;top:750.6249999999999px;font-size:9.0px;letter-spacing:0.7000000000000001px;font-weight:normal;color:#1c1c1c;">1.6</div>
<div class="r" style="left:934.6px;top:756.55px;width:69.10000000000002px;height:1px;background:#333;"></div>
<div class="r" style="left:1140.4px;top:756.55px;width:68.89999999999986px;height:1px;background:#333;"></div>
<div class="t" style="left:969.7500000000001px;top:765.9749999999999px;font-size:9.0px;letter-spacing:0.55px;font-weight:normal;color:#1c1c1c;">2.4</div>
<div class="tl" style="left:1158.6000000000001px;top:766.2749999999999px;font-size:9.0px;letter-spacing:0.7000000000000001px;font-weight:normal;color:#1c1c1c;">1.6-2.0</div>
<div class="r" style="left:934.6px;top:771.8px;width:69.10000000000002px;height:1px;background:#333;"></div>
<div class="r" style="left:1140.4px;top:771.8px;width:68.89999999999986px;height:1px;background:#333;"></div>
<div class="t" style="left:969.7500000000001px;top:781.2249999999999px;font-size:9.0px;letter-spacing:0.55px;font-weight:normal;color:#1c1c1c;">2.6</div>
<div class="tl" style="left:1158.6000000000001px;top:781.5249999999999px;font-size:9.0px;letter-spacing:0.7000000000000001px;font-weight:normal;color:#1c1c1c;">1.8-2.3</div>
<div class="r" style="left:934.6px;top:787.05px;width:69.10000000000002px;height:1px;background:#333;"></div>
<div class="r" style="left:1140.4px;top:787.05px;width:68.89999999999986px;height:1px;background:#333;"></div>
<div class="t" style="left:969.7500000000001px;top:796.4749999999999px;font-size:9.0px;letter-spacing:0.55px;font-weight:normal;color:#1c1c1c;">2.8</div>
<div class="tl" style="left:1158.6000000000001px;top:796.7749999999999px;font-size:9.0px;letter-spacing:0.7000000000000001px;font-weight:normal;color:#1c1c1c;">2.0-2.5</div>
<div class="r" style="left:934.6px;top:802.3px;width:69.10000000000002px;height:1px;background:#333;"></div>
<div class="r" style="left:1140.4px;top:802.3px;width:68.89999999999986px;height:1px;background:#333;"></div>
<div class="t" style="left:969.7500000000001px;top:811.7249999999999px;font-size:9.0px;letter-spacing:0.55px;font-weight:normal;color:#1c1c1c;">3.0</div>
<div class="tl" style="left:1158.6000000000001px;top:812.0249999999999px;font-size:9.0px;letter-spacing:0.7000000000000001px;font-weight:normal;color:#1c1c1c;">2.3-2.8</div>
<div class="r" style="left:934.6px;top:817.55px;width:69.10000000000002px;height:1px;background:#888;"></div>
<div class="r" style="left:1140.4px;top:817.55px;width:68.89999999999986px;height:1px;background:#888;"></div>
<div class="t" style="left:969.7500000000001px;top:826.9749999999999px;font-size:9.0px;letter-spacing:0.55px;font-weight:normal;color:#1c1c1c;">3.3</div>
<div class="tl" style="left:1158.6000000000001px;top:827.2749999999999px;font-size:9.0px;letter-spacing:0.7000000000000001px;font-weight:normal;color:#1c1c1c;">2.5-3.0</div>
<div class="r" style="left:934.6px;top:832.8px;width:69.10000000000002px;height:1px;background:#d8d8d8;"></div>
<div class="r" style="left:1140.4px;top:832.8px;width:68.89999999999986px;height:1px;background:#d8d8d8;"></div>
<div class="t" style="left:969.7500000000001px;top:842.2249999999999px;font-size:9.0px;letter-spacing:0.55px;font-weight:normal;color:#1c1c1c;">3.8</div>
<div class="tl" style="left:1158.6000000000001px;top:842.5249999999999px;font-size:9.0px;letter-spacing:0.7000000000000001px;font-weight:normal;color:#1c1c1c;">3.0-3.5</div>
<div class="r" style="left:934.6px;top:848.05px;width:69.10000000000002px;height:1px;background:#d8d8d8;"></div>
<div class="r" style="left:1140.4px;top:848.05px;width:68.89999999999986px;height:1px;background:#d8d8d8;"></div>
<div class="t" style="left:969.7500000000001px;top:857.4749999999999px;font-size:9.0px;letter-spacing:0.55px;font-weight:normal;color:#1c1c1c;">4.3</div>
<div class="tl" style="left:1158.6000000000001px;top:857.7749999999999px;font-size:9.0px;letter-spacing:0.7000000000000001px;font-weight:normal;color:#1c1c1c;">3.5-4.0</div>
<div class="r" style="left:934.6px;top:863.3px;width:69.10000000000002px;height:1px;background:#888;"></div>
<div class="r" style="left:1140.4px;top:863.3px;width:68.89999999999986px;height:1px;background:#888;"></div>
<div class="t" style="left:969.7500000000001px;top:872.7249999999999px;font-size:9.0px;letter-spacing:0.55px;font-weight:normal;color:#1c1c1c;">4.8</div>
<div class="tl" style="left:1158.6000000000001px;top:873.0249999999999px;font-size:9.0px;letter-spacing:0.7000000000000001px;font-weight:normal;color:#1c1c1c;">4.0-4.5</div>
<div class="r" style="left:934.6px;top:878.55px;width:69.10000000000002px;height:1px;background:#d8d8d8;"></div>
<div class="r" style="left:1140.4px;top:878.55px;width:68.89999999999986px;height:1px;background:#d8d8d8;"></div>
<div class="t" style="left:969.7500000000001px;top:887.9749999999999px;font-size:9.0px;letter-spacing:0.55px;font-weight:normal;color:#1c1c1c;">5.3</div>
<div class="tl" style="left:1158.6000000000001px;top:888.2749999999999px;font-size:9.0px;letter-spacing:0.7000000000000001px;font-weight:normal;color:#1c1c1c;">4.5-5.0</div>
<div class="r" style="left:934.6px;top:893.8px;width:69.10000000000002px;height:1px;background:#888;"></div>
<div class="r" style="left:1140.4px;top:893.8px;width:68.89999999999986px;height:1px;background:#888;"></div>
<div class="t" style="left:969.7500000000001px;top:903.2249999999999px;font-size:9.0px;letter-spacing:0.55px;font-weight:normal;color:#1c1c1c;">5.8</div>
<div class="tl" style="left:1158.6000000000001px;top:903.5249999999999px;font-size:9.0px;letter-spacing:0.7000000000000001px;font-weight:normal;color:#1c1c1c;">5.0-5.5</div>
<div class="r" style="left:934.6px;top:909.05px;width:69.10000000000002px;height:1px;background:#333;"></div>
<div class="r" style="left:1140.4px;top:909.05px;width:68.89999999999986px;height:1px;background:#333;"></div>
<div class="t" style="left:969.7500000000001px;top:918.4749999999999px;font-size:9.0px;letter-spacing:0.55px;font-weight:normal;color:#1c1c1c;">6.3</div>
<div class="tl" style="left:1158.6000000000001px;top:918.7749999999999px;font-size:9.0px;letter-spacing:0.7000000000000001px;font-weight:normal;color:#1c1c1c;">5.5-6.0</div>
<div class="r" style="left:797.3px;top:466.1px;width:623.9000000000001px;height:1px;background:#4d5961;"></div>
<div class="r" style="left:797.3px;top:740.5px;width:623.9000000000001px;height:1px;background:#9a9a9a;"></div>
<div class="r" style="left:797.3px;top:923.25px;width:623.9000000000001px;height:1.1px;background:#3a3a3a;"></div>
<div class="r" style="left:796.8px;top:557.4px;width:1.0px;height:366.4px;background:#7a7a7a;"></div>
<div class="r" style="left:865.4px;top:466.6px;width:1px;height:90.79999999999995px;background:#8097a8;"></div>
<div class="r" style="left:865.4px;top:557.4px;width:1px;height:366.4px;background:#e0e0e0;"></div>
<div class="r" style="left:934.1px;top:466.6px;width:1px;height:90.79999999999995px;background:#2f3a42;"></div>
<div class="r" style="left:934.1px;top:557.4px;width:1px;height:366.4px;background:#3a3a3a;"></div>
<div class="r" style="left:1003.2px;top:466.6px;width:1px;height:90.79999999999995px;background:#2f3a42;"></div>
<div class="r" style="left:1003.2px;top:557.4px;width:1px;height:366.4px;background:#3a3a3a;"></div>
<div class="r" style="left:1071.9px;top:466.6px;width:1px;height:90.79999999999995px;background:#2f3a42;"></div>
<div class="r" style="left:1071.9px;top:557.4px;width:1px;height:366.4px;background:#3a3a3a;"></div>
<div class="r" style="left:1139.9px;top:466.6px;width:1px;height:90.79999999999995px;background:#2f3a42;"></div>
<div class="r" style="left:1139.9px;top:557.4px;width:1px;height:366.4px;background:#3a3a3a;"></div>
<div class="r" style="left:1208.8px;top:466.6px;width:1px;height:90.79999999999995px;background:#2f3a42;"></div>
<div class="r" style="left:1208.8px;top:557.4px;width:1px;height:366.4px;background:#3a3a3a;"></div>
<div class="r" style="left:1278.1px;top:466.6px;width:1px;height:90.79999999999995px;background:#5f7382;"></div>
<div class="r" style="left:1278.1px;top:557.4px;width:1px;height:366.4px;background:#8c8c8c;"></div>
<div class="r" style="left:1346.7px;top:466.6px;width:1px;height:90.79999999999995px;background:#9ab1c2;"></div>
<div class="r" style="left:1346.7px;top:557.4px;width:1px;height:366.4px;background:#ececec;"></div>
<div class="r" style="left:1420.7px;top:466.6px;width:1px;height:90.79999999999995px;background:#9ab1c2;"></div>
<div class="r" style="left:1420.7px;top:557.4px;width:1px;height:366.4px;background:#c4c4c4;"></div>
<div class="r" style="left:865.9px;top:526.6999999999999px;width:555.3000000000001px;height:1.2px;background:#2f3a42;"></div>
<svg class="s" style="left:0;top:0" width="1499" height="1037" viewBox="0 0 1499 1037">
<defs><filter id="b2" x="-5%" y="-5%" width="110%" height="110%"><feGaussianBlur stdDeviation="0.35"/></filter></defs>
<g filter="url(#b2)">
<rect x="439.8" y="467.9" width="45.3" height="50.0" fill="#ffffff"/>
<path d="M442.8 485.7L442.8 503.4L444.9 503.4L448.7 501.1M442.8 485.7L444.9 485.7L448.7 488M444.9 485.7L444.9 503.4M463.9 477.7C467.5 480.5 469.5 484 469.7 488.2L469.7 500.2C469.5 504.5 467.5 508 463.9 510.4M463.9 477L463.9 511M448.7 485L448.7 503M469.7 488.2L481.6 488.2L481.6 499.7L469.7 499.7" fill="none" stroke="#b4b4e2" stroke-width="0.6"/>
<polygon points="448.7,473.1 456.0,473.1 456.0,485.0 448.7,485.0" fill="#775a1c"/>
<polygon points="448.7,503.1 456.0,503.1 456.0,515.3 448.7,515.3" fill="#775a1c"/>
<polygon points="456.0,473.1 463.9,473.1 463.9,485.0 456.0,485.0" fill="#0c5b3a"/>
<polygon points="456.0,503.1 463.9,503.1 463.9,515.3 456.0,515.3" fill="#0c5b3a"/>
<rect x="510.8" y="467.9" width="39.2" height="50.5" fill="#ffffff"/>
<path d="M517 481C517.5 486 520 488 522 489.3L543.5 489.3M517 506C517.5 501 520 499 522 497.4L543.5 497.4M536 480C541.5 483 543.5 488 543.5 493.3C543.5 499 541.5 504 536 507" fill="none" stroke="#b4b4e2" stroke-width="0.6"/>
<polygon points="516.9,471.7 526.2,471.7 526.2,485.7 521.2,485.7 516.9,481.0" fill="#775a1c"/>
<polygon points="521.2,500.2 526.2,500.2 526.2,514.6 516.9,514.6 516.9,505.8" fill="#775a1c"/>
<polygon points="526.2,471.7 536.0,471.7 536.0,485.7 526.2,485.7" fill="#0c5b3a"/>
<polygon points="526.2,500.2 536.0,500.2 536.0,514.6 526.2,514.6" fill="#0c5b3a"/>
<rect x="578.4" y="467.9" width="42.5" height="50.0" fill="#ffffff"/>
<path d="M587 482C587.5 487 590 489 592 490L612.5 490M587 505.5C587.5 500.5 590 498.5 592 497.6L612.5 497.6M606 480C611.5 483 613 488 613 493.5C613 499 611.5 504 606 507" fill="none" stroke="#b4b4e2" stroke-width="0.6"/>
<polygon points="587.0,472.3 596.9,472.3 596.9,485.7 591.7,485.7 587.0,481.9" fill="#775a1c"/>
<polygon points="591.7,500.2 596.9,500.2 596.9,514.5 587.0,514.5 587.0,504.9" fill="#775a1c"/>
<polygon points="596.9,472.3 606.0,472.3 606.0,485.7 596.9,485.7" fill="#0c5b3a"/>
<polygon points="596.9,500.2 606.0,500.2 606.0,514.5 596.9,514.5" fill="#0c5b3a"/>
<path d="M583.1 472.8L584.2 476.6L582 476.6Z M610.2 513.2L609 509.6L611.4 509.6Z" fill="#2a2a50"/>
<path d="M583.1 476L583.1 479.5M610.2 506L610.2 510" fill="none" stroke="#5a5a90" stroke-width="0.5"/>
<rect x="646.9" y="467.9" width="39.2" height="50.0" fill="#ffffff"/>
<path d="M655.3 481C655.8 486 658 488 660 489L679.5 489M655.3 504C655.8 499.5 658 497.5 660 496.5L679.5 496.5M672.7 480C678 483 680 487.5 680 492.5C680 498 678 502.5 672.7 505.5" fill="none" stroke="#b4b4e2" stroke-width="0.6"/>
<polygon points="655.2,473.1 663.9,473.1 663.9,485.2 659.5,485.2 655.2,481.4" fill="#775a1c"/>
<polygon points="659.5,499.0 663.9,499.0 663.9,511.6 655.2,511.6 655.2,503.7" fill="#775a1c"/>
<polygon points="663.9,473.1 672.7,473.1 672.7,485.2 663.9,485.2" fill="#0c5b3a"/>
<polygon points="663.9,499.0 672.7,499.0 672.7,511.6 663.9,511.6" fill="#0c5b3a"/>
<path d="M668.6 469.8L672 468.9L672 470.7Z M656.4 514.2L659.8 513.3L659.8 515.1Z" fill="#2a2a50"/>
<path d="M672 469.8L674 469.8M659.8 514.2L662 514.2" fill="none" stroke="#5a5a90" stroke-width="0.5"/>
<rect x="1153.9" y="477.0" width="42.9" height="43.9" fill="#f3f3fb"/>
<path d="M1158 489.6L1158 506.3L1160.8 506.3M1158 489.6L1160.8 489.6M1160.8 485L1160.8 509.5M1160.8 485.5L1166.7 491.5L1184 491.5M1160.8 509L1166.7 502.6L1193.5 502.6L1193.5 496.2M1184 481L1184 514" fill="none" stroke="#b4b4e2" stroke-width="0.6"/>
<polygon points="1161.1,480.5 1172.1,480.5 1172.1,490.1 1166.7,490.1 1161.1,485.5" fill="#957a2e"/>
<polygon points="1172.1,480.5 1184.0,480.5 1184.0,485.5 1181.0,490.1 1172.1,490.1" fill="#2b6e4b"/>
<polygon points="1166.7,504.4 1172.1,504.4 1172.1,513.9 1161.1,513.9 1161.1,509.0" fill="#957a2e"/>
<polygon points="1172.1,504.4 1181.0,504.4 1184.0,509.0 1184.0,513.9 1172.1,513.9" fill="#2b6e4b"/>
<rect x="1184" y="492.9" width="9.6" height="3.4" fill="#303034"/>
<rect x="1223.3" y="477.0" width="41.7" height="43.9" fill="#f3f3fb"/>
<path d="M1229.8 485L1229.8 510M1229.8 485.5L1235.5 491.5L1253 491.5M1229.8 509.5L1235.5 503L1253 503M1253.3 481L1253.3 514.5M1254.5 478.5C1258.5 488 1258.5 507 1254.5 516.5" fill="none" stroke="#b4b4e2" stroke-width="0.6"/>
<polygon points="1229.8,481.0 1241.2,481.0 1241.2,490.1 1235.5,490.1 1229.8,485.5" fill="#957a2e"/>
<polygon points="1241.2,481.0 1253.3,481.0 1253.3,485.5 1250.0,490.1 1241.2,490.1" fill="#2b6e4b"/>
<polygon points="1235.5,505.0 1241.2,505.0 1241.2,514.4 1229.8,514.4 1229.8,509.6" fill="#957a2e"/>
<polygon points="1241.2,505.0 1250.0,505.0 1253.3,509.6 1253.3,514.4 1241.2,514.4" fill="#2b6e4b"/>
<circle cx="1255.2" cy="483.6" r="1.5" fill="#26264a"/><circle cx="1255.2" cy="511.1" r="1.5" fill="#26264a"/>
<rect x="1292.0" y="477.0" width="42.0" height="43.9" fill="#f3f3fb"/>
<path d="M1298.3 485L1298.3 510M1298.3 486L1303.5 492.5L1321 492.5M1298.3 509.5L1303.5 503.5L1321 503.5M1321.2 485L1321.2 510" fill="none" stroke="#b4b4e2" stroke-width="0.6"/>
<polygon points="1298.1,481.2 1309.1,481.2 1309.1,490.5 1303.2,490.5 1298.1,485.9" fill="#957a2e"/>
<polygon points="1309.1,481.2 1321.4,481.2 1321.4,485.9 1317.7,490.5 1309.1,490.5" fill="#2b6e4b"/>
<polygon points="1303.2,505.5 1309.1,505.5 1309.1,514.6 1298.1,514.6 1298.1,510.1" fill="#957a2e"/>
<polygon points="1309.1,505.5 1317.7,505.5 1321.4,510.1 1321.4,514.6 1309.1,514.6" fill="#2b6e4b"/>
<path d="M1323.8 482.3L1324.8 485.6L1322.8 485.6Z M1295.7 514L1294.7 511L1296.7 511Z" fill="#2a2a50"/>
<rect x="1362.1" y="477.0" width="42.0" height="43.9" fill="#f3f3fb"/>
<path d="M1370.9 485L1370.9 510M1370.9 486L1376.5 492.5L1395 492.5M1370.9 509.5L1376.5 503.5L1395 503.5M1395 485L1395 510" fill="none" stroke="#b4b4e2" stroke-width="0.6"/>
<polygon points="1370.7,481.0 1382.6,481.0 1382.6,490.5 1376.3,490.5 1370.7,485.9" fill="#957a2e"/>
<polygon points="1382.6,481.0 1395.2,481.0 1395.2,485.9 1391.8,490.5 1382.6,490.5" fill="#2b6e4b"/>
<polygon points="1376.3,505.7 1382.6,505.7 1382.6,514.6 1370.7,514.6 1370.7,510.3" fill="#957a2e"/>
<polygon points="1382.6,505.7 1391.8,505.7 1395.2,510.3 1395.2,514.6 1382.6,514.6" fill="#2b6e4b"/>
<path d="M1393.5 478.9L1390.2 478L1390.2 479.8Z M1371.8 517.6L1375 516.7L1375 518.5Z" fill="#2a2a50"/>
<path d="M1387.5 478.9L1390.2 478.9M1375 517.6L1378 517.6" fill="none" stroke="#5a5a90" stroke-width="0.5"/>
</g></svg>
<svg class="s" style="left:80.3px;top:930.1px" width="10" height="10" viewBox="-1 -5 10 10"><circle cx="3.3" cy="0" r="2.7" fill="none" stroke="#8a8a8a" stroke-width="1.1" stroke-dasharray="1.3 0.7"/></svg>
<div class="tl" style="left:89.62px;top:935.4px;font-size:9.6px;letter-spacing:0.342px;font-weight:normal;color:#1c1c1c;">All dimensions in mm</div>
<svg class="s" style="left:797.8px;top:933.0px" width="10" height="10" viewBox="-1 -5 10 10"><circle cx="3.3" cy="0" r="2.7" fill="none" stroke="#8a8a8a" stroke-width="1.1" stroke-dasharray="1.3 0.7"/></svg>
<div class="tl" style="left:807.12px;top:938.3px;font-size:9.6px;letter-spacing:0.342px;font-weight:normal;color:#1c1c1c;">All dimensions in mm</div>
<div class="r" style="left:69.9px;top:977.4px;width:1364.1px;height:3.5px;background:#ea8a1c;"></div>
<div class="r" style="left:69.9px;top:984.9px;width:24.0px;height:31.3px;background:#05468f;"></div>
<div class="r" style="left:1409.9px;top:984.9px;width:24.1px;height:31.3px;background:#05468f;"></div>
<div class="t" style="left:82.4px;top:996.3px;font-size:10.5px;letter-spacing:0px;font-weight:normal;color:#fff;">1</div>
<div class="t" style="left:1421.9px;top:996.1px;font-size:10.5px;letter-spacing:0px;font-weight:normal;color:#fff;">2</div>
<svg class="s" style="left:67.90px;top:969.70px" width="91.2" height="8.3" viewBox="-2 -5.9 91.2 8.3"><text class="cj" x="0" y="0" font-size="5.9" fill="#222" style="letter-spacing:0.3px">东莞市凯仕特五金制品有限公司</text></svg>
<div class="tl" style="left:161.56px;top:974.5px;font-size:5.9px;letter-spacing:0.361px;font-weight:normal;color:#1a1a1a;">DONGGUANSHI KAISHITE HARDWARE PRODUCTS CO.,LTD</div>
<svg class="s" style="left:1006.40px;top:969.70px" width="105.6" height="8.4" viewBox="-2 -6.0 105.6 8.4"><text class="cj" x="0" y="0" font-size="6" fill="#1a1a1a" style="letter-spacing:-0.15px">地址:东莞市大岭山镇杨屋工业园培仔路</text></svg>
<div class="tl" style="left:1110.08px;top:974.4px;font-size:6.0px;letter-spacing:0.2px;font-weight:normal;color:#1a1a1a;">23</div>
<svg class="s" style="left:1115.60px;top:969.70px" width="9.6" height="8.4" viewBox="-2 -6.0 9.6 8.4"><text class="cj" x="0" y="0" font-size="6" fill="#1a1a1a">号</text></svg>
<div class="tl" style="left:1123.24px;top:974.4px;font-size:6.0px;letter-spacing:0.0px;font-weight:normal;color:#1a1a1a;">C</div>
<svg class="s" style="left:1126.21px;top:969.70px" width="9.6" height="8.4" viewBox="-2 -6.0 9.6 8.4"><text class="cj" x="0" y="0" font-size="6" fill="#1a1a1a">栋</text></svg>
<svg class="s" style="left:1140.00px;top:969.70px" width="16.3" height="8.4" viewBox="-2 -6.0 16.3 8.4"><text class="cj" x="0" y="0" font-size="6" fill="#1a1a1a" style="letter-spacing:0.2px">电话</text></svg>
<div class="tl" style="left:1154.45px;top:974.4px;font-size:6.2px;letter-spacing:0.242px;font-weight:normal;color:#1a1a1a;">:0769-83316525/83225966</div>
<svg class="s" style="left:1237.70px;top:969.70px" width="16.3" height="8.4" viewBox="-2 -6.0 16.3 8.4"><text class="cj" x="0" y="0" font-size="6" fill="#1a1a1a" style="letter-spacing:0.2px">传真</text></svg>
<div class="tl" style="left:1252.15px;top:974.4px;font-size:6.2px;letter-spacing:0.287px;font-weight:normal;color:#1a1a1a;">:0769-83225966</div>
<svg class="s" style="left:1305.20px;top:969.70px" width="16.3" height="8.4" viewBox="-2 -6.0 16.3 8.4"><text class="cj" x="0" y="0" font-size="6" fill="#1a1a1a" style="letter-spacing:0.2px">邮箱</text></svg>
<div class="tl" style="left:1319.65px;top:974.4px;font-size:6.2px;letter-spacing:-0.105px;font-weight:normal;color:#1a1a1a;">:kst_sz@163.com</div>
<svg class="s" style="left:1372.00px;top:969.70px" width="16.3" height="8.4" viewBox="-2 -6.0 16.3 8.4"><text class="cj" x="0" y="0" font-size="6" fill="#1a1a1a" style="letter-spacing:0.2px">网址</text></svg>
<div class="tl" style="left:1386.45px;top:974.4px;font-size:6.2px;letter-spacing:0.224px;font-weight:normal;color:#1a1a1a;">:www.kseet.com</div>
</body></html>
